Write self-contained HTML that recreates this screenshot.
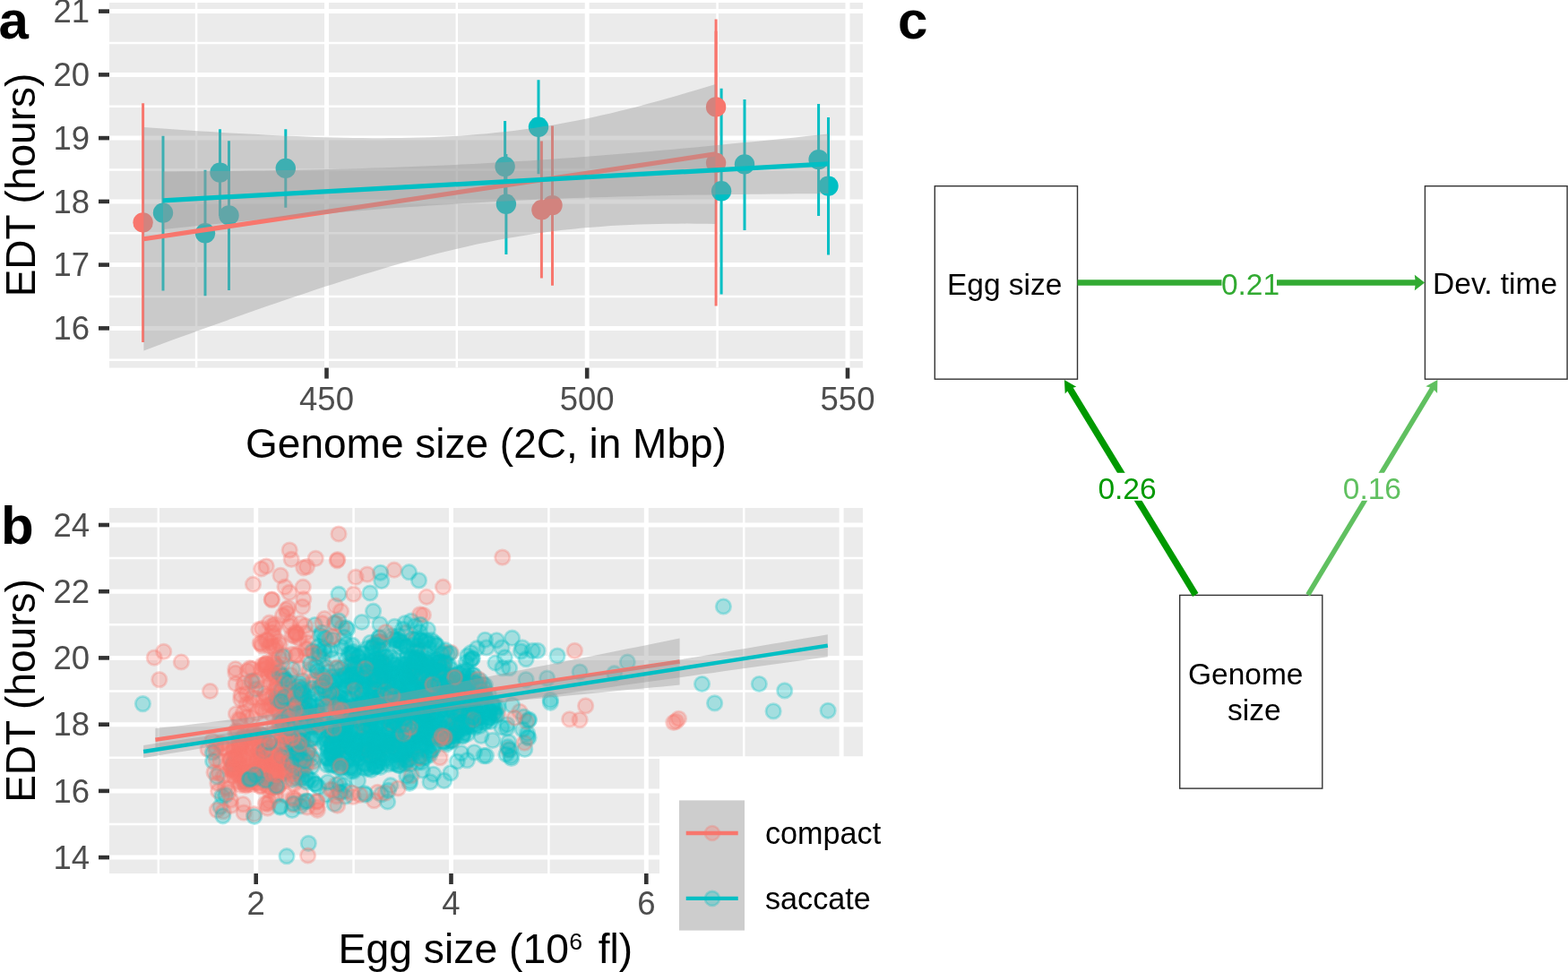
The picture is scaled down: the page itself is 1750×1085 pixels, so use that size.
<!DOCTYPE html><html><head><meta charset="utf-8"><title>Figure</title><style>html,body{margin:0;padding:0;background:#fff;}svg{display:block;}</style></head><body>
<svg width="1750" height="1085" viewBox="0 0 1750 1085" font-family="'Liberation Sans',Arial,Helvetica,sans-serif">
<rect width="1750" height="1085" fill="#fff"/>
<defs><clipPath id="ca"><rect x="122" y="3" width="841" height="407.6"/></clipPath><clipPath id="cb"><rect x="122" y="567" width="841" height="408"/></clipPath></defs>
<rect x="122" y="3" width="841" height="407.6" fill="#EBEBEB"/>
<g clip-path="url(#ca)" stroke="#fff">
<line x1="122" x2="963" y1="401.8" y2="401.8" stroke-width="2.5"/><line x1="122" x2="963" y1="331" y2="331" stroke-width="2.5"/><line x1="122" x2="963" y1="260.3" y2="260.3" stroke-width="2.5"/><line x1="122" x2="963" y1="189.5" y2="189.5" stroke-width="2.5"/><line x1="122" x2="963" y1="118.8" y2="118.8" stroke-width="2.5"/><line x1="122" x2="963" y1="48" y2="48" stroke-width="2.5"/><line y1="3" y2="410.6" x1="219.1" x2="219.1" stroke-width="2.5"/><line y1="3" y2="410.6" x1="509.8" x2="509.8" stroke-width="2.5"/><line y1="3" y2="410.6" x1="800.6" x2="800.6" stroke-width="2.5"/><line x1="122" x2="963" y1="366.4" y2="366.4" stroke-width="5"/><line x1="122" x2="963" y1="295.6" y2="295.6" stroke-width="5"/><line x1="122" x2="963" y1="224.9" y2="224.9" stroke-width="5"/><line x1="122" x2="963" y1="154.1" y2="154.1" stroke-width="5"/><line x1="122" x2="963" y1="83.4" y2="83.4" stroke-width="5"/><line x1="122" x2="963" y1="12.6" y2="12.6" stroke-width="5"/><line y1="3" y2="410.6" x1="364.5" x2="364.5" stroke-width="5"/><line y1="3" y2="410.6" x1="655.2" x2="655.2" stroke-width="5"/><line y1="3" y2="410.6" x1="946" x2="946" stroke-width="5"/>
</g>
<g clip-path="url(#ca)">
<line x1="159.6" x2="159.6" y1="115.2" y2="381.9" stroke="#F8766D" stroke-width="3"/>
<line x1="604.4" x2="604.4" y1="157.6" y2="310.5" stroke="#F8766D" stroke-width="3"/>
<line x1="616.5" x2="616.5" y1="140.6" y2="318.7" stroke="#F8766D" stroke-width="3"/>
<line x1="799.1" x2="799.1" y1="21.6" y2="217.2" stroke="#F8766D" stroke-width="3"/>
<line x1="799.1" x2="799.1" y1="34.8" y2="341.6" stroke="#F8766D" stroke-width="3"/>
<line x1="182" x2="182" y1="151.7" y2="324.4" stroke="#00BFC4" stroke-width="3"/>
<line x1="229" x2="229" y1="189.8" y2="330.2" stroke="#00BFC4" stroke-width="3"/>
<line x1="245.5" x2="245.5" y1="144.2" y2="241" stroke="#00BFC4" stroke-width="3"/>
<line x1="255.5" x2="255.5" y1="157.2" y2="323.9" stroke="#00BFC4" stroke-width="3"/>
<line x1="318.8" x2="318.8" y1="144.2" y2="231.8" stroke="#00BFC4" stroke-width="3"/>
<line x1="563.6" x2="563.6" y1="134.9" y2="237" stroke="#00BFC4" stroke-width="3"/>
<line x1="564.9" x2="564.9" y1="172" y2="284.1" stroke="#00BFC4" stroke-width="3"/>
<line x1="601" x2="601" y1="89.2" y2="194.3" stroke="#00BFC4" stroke-width="3"/>
<line x1="805.1" x2="805.1" y1="98.8" y2="328.4" stroke="#00BFC4" stroke-width="3"/>
<line x1="831" x2="831" y1="111.1" y2="257" stroke="#00BFC4" stroke-width="3"/>
<line x1="913.6" x2="913.6" y1="116.1" y2="241.1" stroke="#00BFC4" stroke-width="3"/>
<line x1="924.5" x2="924.5" y1="131" y2="284.6" stroke="#00BFC4" stroke-width="3"/>
<circle cx="159.6" cy="248.4" r="11.2" fill="#F8766D"/>
<circle cx="604.4" cy="234.3" r="11.2" fill="#F8766D"/>
<circle cx="616.5" cy="229.1" r="11.2" fill="#F8766D"/>
<circle cx="799.1" cy="119.4" r="11.2" fill="#F8766D"/>
<circle cx="799.1" cy="181.8" r="11.2" fill="#F8766D"/>
<circle cx="182" cy="237.6" r="11.2" fill="#00BFC4"/>
<circle cx="229" cy="260.3" r="11.2" fill="#00BFC4"/>
<circle cx="245.5" cy="192.6" r="11.2" fill="#00BFC4"/>
<circle cx="255.5" cy="240.4" r="11.2" fill="#00BFC4"/>
<circle cx="318.8" cy="187.9" r="11.2" fill="#00BFC4"/>
<circle cx="563.6" cy="186" r="11.2" fill="#00BFC4"/>
<circle cx="564.9" cy="227.8" r="11.2" fill="#00BFC4"/>
<circle cx="601" cy="141.8" r="11.2" fill="#00BFC4"/>
<circle cx="805.1" cy="213.3" r="11.2" fill="#00BFC4"/>
<circle cx="831" cy="183.4" r="11.2" fill="#00BFC4"/>
<circle cx="913.6" cy="178.1" r="11.2" fill="#00BFC4"/>
<circle cx="924.5" cy="207.6" r="11.2" fill="#00BFC4"/>
<path d="M160.4 142 L171 142.8 L181.7 143.5 L192.3 144.3 L202.9 145 L213.6 145.7 L224.2 146.4 L234.8 147.1 L245.5 147.7 L256.1 148.4 L266.8 149 L277.4 149.6 L288 150.1 L298.7 150.7 L309.3 151.2 L319.9 151.7 L330.6 152.1 L341.2 152.5 L351.8 152.9 L362.5 153.2 L373.1 153.5 L383.7 153.7 L394.4 153.9 L405 154.1 L415.6 154.2 L426.3 154.2 L436.9 154.1 L447.5 154 L458.2 153.8 L468.8 153.6 L479.5 153.2 L490.1 152.8 L500.7 152.3 L511.4 151.7 L522 151 L532.6 150.1 L543.3 149.2 L553.9 148.1 L564.5 147 L575.2 145.7 L585.8 144.3 L596.4 142.8 L607.1 141.1 L617.7 139.4 L628.3 137.5 L639 135.5 L649.6 133.4 L660.2 131.2 L670.9 128.8 L681.5 126.4 L692.1 123.8 L702.8 121.2 L713.4 118.5 L724.1 115.6 L734.7 112.7 L745.3 109.8 L756 106.7 L766.6 103.6 L777.2 100.4 L787.9 97.2 L798.5 93.9 L798.5 249.9 L787.9 249.7 L777.2 249.7 L766.6 249.6 L756 249.7 L745.3 249.8 L734.7 250 L724.1 250.2 L713.4 250.6 L702.8 251 L692.1 251.5 L681.5 252.1 L670.9 252.9 L660.2 253.7 L649.6 254.6 L639 255.7 L628.3 256.8 L617.7 258.1 L607.1 259.5 L596.4 261 L585.8 262.7 L575.2 264.4 L564.5 266.3 L553.9 268.3 L543.3 270.4 L532.6 272.6 L522 275 L511.4 277.4 L500.7 280 L490.1 282.6 L479.5 285.3 L468.8 288.2 L458.2 291.1 L447.5 294 L436.9 297.1 L426.3 300.2 L415.6 303.4 L405 306.6 L394.4 309.9 L383.7 313.3 L373.1 316.7 L362.5 320.1 L351.8 323.6 L341.2 327.2 L330.6 330.7 L319.9 334.3 L309.3 338 L298.7 341.6 L288 345.3 L277.4 349.1 L266.8 352.8 L256.1 356.6 L245.5 360.4 L234.8 364.2 L224.2 368 L213.6 371.9 L202.9 375.7 L192.3 379.6 L181.7 383.5 L171 387.5 L160.4 391.4Z" fill="#999999" fill-opacity="0.4"/>
<line x1="160.4" y1="266.7" x2="798.5" y2="171.9" stroke="#F8766D" stroke-width="5.2"/>
<path d="M182 191.5 L194.4 191.4 L206.8 191.3 L219.1 191.2 L231.5 191.1 L243.9 191 L256.2 190.9 L268.6 190.7 L281 190.6 L293.4 190.4 L305.8 190.2 L318.1 190 L330.5 189.8 L342.9 189.5 L355.2 189.2 L367.6 189 L380 188.6 L392.4 188.3 L404.8 188 L417.1 187.6 L429.5 187.2 L441.9 186.8 L454.2 186.3 L466.6 185.8 L479 185.3 L491.4 184.8 L503.8 184.2 L516.1 183.6 L528.5 183 L540.9 182.3 L553.2 181.6 L565.6 180.9 L578 180.1 L590.4 179.4 L602.8 178.5 L615.1 177.7 L627.5 176.8 L639.9 175.9 L652.2 175 L664.6 174 L677 173 L689.4 172 L701.8 171 L714.1 170 L726.5 168.9 L738.9 167.8 L751.2 166.7 L763.6 165.5 L776 164.4 L788.4 163.2 L800.8 162 L813.1 160.8 L825.5 159.6 L837.9 158.4 L850.2 157.2 L862.6 155.9 L875 154.7 L887.4 153.4 L899.8 152.1 L912.1 150.8 L924.5 149.5 L924.5 216.1 L912.1 216.2 L899.8 216.3 L887.4 216.3 L875 216.4 L862.6 216.5 L850.2 216.7 L837.9 216.8 L825.5 216.9 L813.1 217.1 L800.8 217.2 L788.4 217.4 L776 217.6 L763.6 217.8 L751.2 218.1 L738.9 218.3 L726.5 218.6 L714.1 218.9 L701.8 219.2 L689.4 219.5 L677 219.9 L664.6 220.3 L652.2 220.7 L639.9 221.1 L627.5 221.6 L615.1 222.1 L602.8 222.6 L590.4 223.2 L578 223.7 L565.6 224.4 L553.2 225 L540.9 225.7 L528.5 226.4 L516.1 227.1 L503.8 227.9 L491.4 228.7 L479 229.5 L466.6 230.4 L454.2 231.2 L441.9 232.1 L429.5 233.1 L417.1 234 L404.8 235 L392.4 236.1 L380 237.1 L367.6 238.2 L355.2 239.2 L342.9 240.3 L330.5 241.5 L318.1 242.6 L305.8 243.7 L293.4 244.9 L281 246.1 L268.6 247.3 L256.2 248.5 L243.9 249.8 L231.5 251 L219.1 252.3 L206.8 253.5 L194.4 254.8 L182 256.1Z" fill="#999999" fill-opacity="0.4"/>
<line x1="182" y1="223.8" x2="924.5" y2="182.8" stroke="#00BFC4" stroke-width="5.2"/>
</g>
<line x1="110" x2="122" y1="366.4" y2="366.4" stroke="#333" stroke-width="4.6"/><text x="100.1" y="379" text-anchor="end" font-size="36.5" fill="#4D4D4D">16</text><line x1="110" x2="122" y1="295.6" y2="295.6" stroke="#333" stroke-width="4.6"/><text x="100.1" y="308.2" text-anchor="end" font-size="36.5" fill="#4D4D4D">17</text><line x1="110" x2="122" y1="224.9" y2="224.9" stroke="#333" stroke-width="4.6"/><text x="100.1" y="237.5" text-anchor="end" font-size="36.5" fill="#4D4D4D">18</text><line x1="110" x2="122" y1="154.1" y2="154.1" stroke="#333" stroke-width="4.6"/><text x="100.1" y="166.7" text-anchor="end" font-size="36.5" fill="#4D4D4D">19</text><line x1="110" x2="122" y1="83.4" y2="83.4" stroke="#333" stroke-width="4.6"/><text x="100.1" y="96" text-anchor="end" font-size="36.5" fill="#4D4D4D">20</text><line x1="110" x2="122" y1="12.6" y2="12.6" stroke="#333" stroke-width="4.6"/><text x="100.1" y="25.2" text-anchor="end" font-size="36.5" fill="#4D4D4D">21</text><line y1="410.6" y2="422.6" x1="364.5" x2="364.5" stroke="#333" stroke-width="4.6"/><text x="364.5" y="457.7" text-anchor="middle" font-size="36.5" fill="#4D4D4D">450</text><line y1="410.6" y2="422.6" x1="655.2" x2="655.2" stroke="#333" stroke-width="4.6"/><text x="655.2" y="457.7" text-anchor="middle" font-size="36.5" fill="#4D4D4D">500</text><line y1="410.6" y2="422.6" x1="946" x2="946" stroke="#333" stroke-width="4.6"/><text x="946" y="457.7" text-anchor="middle" font-size="36.5" fill="#4D4D4D">550</text>
<text x="542.5" y="510.8" text-anchor="middle" font-size="46" fill="#000">Genome size (2C, in Mbp)</text>
<text transform="translate(38.7,206.5) rotate(-90)" text-anchor="middle" font-size="46" fill="#000">EDT (hours)</text>
<text x="-1.4" y="42.8" font-size="60" font-weight="bold" fill="#000">a</text>
<rect x="122" y="567" width="841" height="408" fill="#EBEBEB"/>
<g clip-path="url(#cb)" stroke="#fff">
<line x1="122" x2="963" y1="920" y2="920" stroke-width="2.5"/><line x1="122" x2="963" y1="845.8" y2="845.8" stroke-width="2.5"/><line x1="122" x2="963" y1="771.5" y2="771.5" stroke-width="2.5"/><line x1="122" x2="963" y1="697.3" y2="697.3" stroke-width="2.5"/><line x1="122" x2="963" y1="623.1" y2="623.1" stroke-width="2.5"/><line y1="567" y2="975" x1="176.8" x2="176.8" stroke-width="2.5"/><line y1="567" y2="975" x1="394.6" x2="394.6" stroke-width="2.5"/><line y1="567" y2="975" x1="612.4" x2="612.4" stroke-width="2.5"/><line y1="567" y2="975" x1="830.2" x2="830.2" stroke-width="2.5"/><line x1="122" x2="963" y1="957.1" y2="957.1" stroke-width="5"/><line x1="122" x2="963" y1="882.9" y2="882.9" stroke-width="5"/><line x1="122" x2="963" y1="808.7" y2="808.7" stroke-width="5"/><line x1="122" x2="963" y1="734.4" y2="734.4" stroke-width="5"/><line x1="122" x2="963" y1="660.2" y2="660.2" stroke-width="5"/><line x1="122" x2="963" y1="586" y2="586" stroke-width="5"/><line y1="567" y2="975" x1="285.7" x2="285.7" stroke-width="5"/><line y1="567" y2="975" x1="503.5" x2="503.5" stroke-width="5"/><line y1="567" y2="975" x1="721.3" x2="721.3" stroke-width="5"/><line y1="567" y2="975" x1="939.1" x2="939.1" stroke-width="5"/>
</g>
<style>.r{fill:#F8766D;stroke:#F8766D}.c{fill:#00BFC4;stroke:#00BFC4}.r,.c{fill-opacity:.3;stroke-opacity:.3;stroke-width:2.8px}</style><g clip-path="url(#cb)"><circle class="r" cx="301.9" cy="762.9" r="8.2"/><circle class="c" cx="407.4" cy="839.4" r="8.2"/><circle class="c" cx="413.2" cy="831.3" r="8.2"/><circle class="r" cx="243.6" cy="883.0" r="8.2"/><circle class="c" cx="466.3" cy="851.3" r="8.2"/><circle class="c" cx="387.1" cy="736.4" r="8.2"/><circle class="c" cx="337.9" cy="895.7" r="8.2"/><circle class="c" cx="588.6" cy="822.9" r="8.2"/><circle class="c" cx="373.1" cy="897.4" r="8.2"/><circle class="c" cx="332.6" cy="831.8" r="8.2"/><circle class="r" cx="265.9" cy="841.3" r="8.2"/><circle class="r" cx="419.0" cy="764.4" r="8.2"/><circle class="c" cx="530.4" cy="781.0" r="8.2"/><circle class="r" cx="460.3" cy="815.1" r="8.2"/><circle class="c" cx="479.6" cy="765.5" r="8.2"/><circle class="c" cx="337.3" cy="855.2" r="8.2"/><circle class="c" cx="488.6" cy="820.4" r="8.2"/><circle class="c" cx="429.9" cy="733.8" r="8.2"/><circle class="c" cx="391.9" cy="800.0" r="8.2"/><circle class="r" cx="291.7" cy="789.8" r="8.2"/><circle class="c" cx="334.2" cy="826.0" r="8.2"/><circle class="c" cx="471.4" cy="766.0" r="8.2"/><circle class="c" cx="440.9" cy="736.8" r="8.2"/><circle class="r" cx="310.1" cy="744.6" r="8.2"/><circle class="r" cx="340.9" cy="724.4" r="8.2"/><circle class="r" cx="273.9" cy="824.2" r="8.2"/><circle class="c" cx="391.8" cy="855.1" r="8.2"/><circle class="c" cx="452.2" cy="787.1" r="8.2"/><circle class="c" cx="411.1" cy="745.6" r="8.2"/><circle class="r" cx="290.4" cy="835.5" r="8.2"/><circle class="r" cx="309.4" cy="863.6" r="8.2"/><circle class="c" cx="434.3" cy="814.4" r="8.2"/><circle class="r" cx="494.9" cy="727.9" r="8.2"/><circle class="c" cx="433.9" cy="821.6" r="8.2"/><circle class="c" cx="359.6" cy="753.3" r="8.2"/><circle class="c" cx="367.1" cy="750.1" r="8.2"/><circle class="c" cx="460.7" cy="829.5" r="8.2"/><circle class="c" cx="465.6" cy="802.3" r="8.2"/><circle class="c" cx="437.0" cy="741.4" r="8.2"/><circle class="c" cx="273.7" cy="872.4" r="8.2"/><circle class="r" cx="264.2" cy="814.8" r="8.2"/><circle class="c" cx="546.5" cy="801.4" r="8.2"/><circle class="c" cx="321.8" cy="769.5" r="8.2"/><circle class="r" cx="294.7" cy="855.6" r="8.2"/><circle class="c" cx="525.1" cy="737.0" r="8.2"/><circle class="c" cx="320.4" cy="795.9" r="8.2"/><circle class="c" cx="418.7" cy="786.0" r="8.2"/><circle class="c" cx="387.7" cy="849.2" r="8.2"/><circle class="c" cx="440.4" cy="793.3" r="8.2"/><circle class="c" cx="528.4" cy="753.5" r="8.2"/><circle class="r" cx="352.3" cy="623.4" r="8.2"/><circle class="c" cx="394.7" cy="814.8" r="8.2"/><circle class="c" cx="507.8" cy="811.0" r="8.2"/><circle class="c" cx="499.6" cy="730.1" r="8.2"/><circle class="c" cx="373.1" cy="695.7" r="8.2"/><circle class="r" cx="757.4" cy="802.3" r="8.2"/><circle class="c" cx="482.5" cy="768.2" r="8.2"/><circle class="c" cx="430.8" cy="746.9" r="8.2"/><circle class="r" cx="299.7" cy="752.5" r="8.2"/><circle class="r" cx="308.2" cy="792.2" r="8.2"/><circle class="c" cx="418.4" cy="856.0" r="8.2"/><circle class="c" cx="365.6" cy="822.4" r="8.2"/><circle class="r" cx="353.6" cy="901.1" r="8.2"/><circle class="c" cx="476.4" cy="762.5" r="8.2"/><circle class="c" cx="385.3" cy="825.9" r="8.2"/><circle class="c" cx="440.8" cy="715.1" r="8.2"/><circle class="c" cx="479.9" cy="842.6" r="8.2"/><circle class="r" cx="472.4" cy="686.5" r="8.2"/><circle class="c" cx="514.7" cy="804.6" r="8.2"/><circle class="c" cx="521.5" cy="800.1" r="8.2"/><circle class="c" cx="384.6" cy="744.4" r="8.2"/><circle class="c" cx="387.5" cy="847.5" r="8.2"/><circle class="c" cx="439.0" cy="791.9" r="8.2"/><circle class="r" cx="266.3" cy="850.8" r="8.2"/><circle class="c" cx="515.8" cy="778.4" r="8.2"/><circle class="r" cx="338.1" cy="832.6" r="8.2"/><circle class="c" cx="484.5" cy="816.9" r="8.2"/><circle class="c" cx="415.5" cy="777.9" r="8.2"/><circle class="c" cx="471.7" cy="834.6" r="8.2"/><circle class="c" cx="385.1" cy="816.9" r="8.2"/><circle class="c" cx="469.9" cy="726.0" r="8.2"/><circle class="c" cx="427.7" cy="718.2" r="8.2"/><circle class="c" cx="421.3" cy="762.2" r="8.2"/><circle class="r" cx="471.9" cy="765.5" r="8.2"/><circle class="c" cx="404.4" cy="816.7" r="8.2"/><circle class="r" cx="339.8" cy="766.4" r="8.2"/><circle class="c" cx="395.6" cy="837.5" r="8.2"/><circle class="r" cx="311.9" cy="781.6" r="8.2"/><circle class="r" cx="325.3" cy="806.5" r="8.2"/><circle class="r" cx="299.9" cy="786.5" r="8.2"/><circle class="r" cx="292.7" cy="742.5" r="8.2"/><circle class="c" cx="581.4" cy="727.1" r="8.2"/><circle class="r" cx="635.7" cy="802.9" r="8.2"/><circle class="c" cx="386.6" cy="810.1" r="8.2"/><circle class="c" cx="571.6" cy="712.2" r="8.2"/><circle class="r" cx="315.4" cy="858.9" r="8.2"/><circle class="c" cx="473.7" cy="749.1" r="8.2"/><circle class="c" cx="373.7" cy="848.8" r="8.2"/><circle class="r" cx="343.5" cy="717.5" r="8.2"/><circle class="r" cx="251.2" cy="879.1" r="8.2"/><circle class="c" cx="471.5" cy="771.9" r="8.2"/><circle class="c" cx="501.7" cy="773.5" r="8.2"/><circle class="c" cx="700.3" cy="739.1" r="8.2"/><circle class="r" cx="318.4" cy="887.9" r="8.2"/><circle class="c" cx="332.9" cy="862.0" r="8.2"/><circle class="r" cx="307.8" cy="721.2" r="8.2"/><circle class="c" cx="399.8" cy="733.8" r="8.2"/><circle class="c" cx="367.5" cy="816.1" r="8.2"/><circle class="r" cx="257.7" cy="847.6" r="8.2"/><circle class="r" cx="323.2" cy="769.3" r="8.2"/><circle class="r" cx="330.6" cy="782.7" r="8.2"/><circle class="c" cx="491.9" cy="791.4" r="8.2"/><circle class="c" cx="468.6" cy="705.7" r="8.2"/><circle class="c" cx="393.4" cy="847.3" r="8.2"/><circle class="c" cx="345.6" cy="796.0" r="8.2"/><circle class="r" cx="327.7" cy="776.5" r="8.2"/><circle class="c" cx="351.7" cy="743.5" r="8.2"/><circle class="c" cx="437.4" cy="824.7" r="8.2"/><circle class="r" cx="272.2" cy="821.6" r="8.2"/><circle class="r" cx="323.8" cy="848.9" r="8.2"/><circle class="c" cx="473.3" cy="799.0" r="8.2"/><circle class="r" cx="280.7" cy="875.9" r="8.2"/><circle class="r" cx="476.1" cy="798.4" r="8.2"/><circle class="c" cx="455.7" cy="846.1" r="8.2"/><circle class="c" cx="387.7" cy="702.7" r="8.2"/><circle class="c" cx="520.1" cy="777.4" r="8.2"/><circle class="c" cx="436.6" cy="805.2" r="8.2"/><circle class="c" cx="375.0" cy="826.6" r="8.2"/><circle class="c" cx="457.1" cy="874.3" r="8.2"/><circle class="c" cx="492.3" cy="757.5" r="8.2"/><circle class="c" cx="378.9" cy="825.4" r="8.2"/><circle class="r" cx="375.2" cy="875.8" r="8.2"/><circle class="c" cx="451.8" cy="782.5" r="8.2"/><circle class="r" cx="368.8" cy="774.4" r="8.2"/><circle class="c" cx="429.4" cy="826.3" r="8.2"/><circle class="c" cx="513.9" cy="774.1" r="8.2"/><circle class="r" cx="357.8" cy="759.2" r="8.2"/><circle class="c" cx="369.4" cy="841.7" r="8.2"/><circle class="r" cx="503.0" cy="728.4" r="8.2"/><circle class="c" cx="516.4" cy="813.5" r="8.2"/><circle class="c" cx="341.3" cy="791.8" r="8.2"/><circle class="r" cx="338.8" cy="633.8" r="8.2"/><circle class="r" cx="560.7" cy="622.1" r="8.2"/><circle class="r" cx="317.7" cy="796.1" r="8.2"/><circle class="r" cx="314.0" cy="754.4" r="8.2"/><circle class="c" cx="482.6" cy="755.3" r="8.2"/><circle class="c" cx="458.8" cy="743.9" r="8.2"/><circle class="c" cx="506.6" cy="819.0" r="8.2"/><circle class="c" cx="401.7" cy="797.4" r="8.2"/><circle class="c" cx="477.5" cy="763.7" r="8.2"/><circle class="c" cx="525.8" cy="781.4" r="8.2"/><circle class="c" cx="472.4" cy="795.1" r="8.2"/><circle class="c" cx="454.4" cy="757.1" r="8.2"/><circle class="r" cx="477.4" cy="741.4" r="8.2"/><circle class="r" cx="257.2" cy="859.0" r="8.2"/><circle class="c" cx="348.4" cy="846.6" r="8.2"/><circle class="r" cx="267.9" cy="876.4" r="8.2"/><circle class="r" cx="291.2" cy="846.5" r="8.2"/><circle class="c" cx="490.4" cy="792.4" r="8.2"/><circle class="c" cx="474.6" cy="799.7" r="8.2"/><circle class="c" cx="464.6" cy="810.0" r="8.2"/><circle class="r" cx="306.9" cy="865.4" r="8.2"/><circle class="c" cx="479.3" cy="824.0" r="8.2"/><circle class="r" cx="261.9" cy="865.2" r="8.2"/><circle class="c" cx="372.9" cy="800.2" r="8.2"/><circle class="c" cx="433.6" cy="760.2" r="8.2"/><circle class="c" cx="412.3" cy="805.3" r="8.2"/><circle class="c" cx="459.1" cy="789.4" r="8.2"/><circle class="c" cx="414.1" cy="740.1" r="8.2"/><circle class="c" cx="510.6" cy="756.9" r="8.2"/><circle class="r" cx="310.9" cy="843.2" r="8.2"/><circle class="c" cx="443.0" cy="719.4" r="8.2"/><circle class="c" cx="453.7" cy="848.8" r="8.2"/><circle class="c" cx="337.9" cy="848.9" r="8.2"/><circle class="c" cx="356.6" cy="727.0" r="8.2"/><circle class="c" cx="331.3" cy="868.8" r="8.2"/><circle class="c" cx="394.1" cy="800.7" r="8.2"/><circle class="c" cx="425.6" cy="886.6" r="8.2"/><circle class="c" cx="453.4" cy="741.9" r="8.2"/><circle class="c" cx="416.5" cy="832.8" r="8.2"/><circle class="r" cx="319.4" cy="680.5" r="8.2"/><circle class="r" cx="309.8" cy="769.2" r="8.2"/><circle class="c" cx="536.2" cy="787.4" r="8.2"/><circle class="c" cx="486.0" cy="771.9" r="8.2"/><circle class="r" cx="278.8" cy="785.4" r="8.2"/><circle class="r" cx="310.8" cy="716.0" r="8.2"/><circle class="c" cx="531.1" cy="809.0" r="8.2"/><circle class="c" cx="247.9" cy="888.6" r="8.2"/><circle class="c" cx="351.5" cy="697.5" r="8.2"/><circle class="c" cx="433.1" cy="751.2" r="8.2"/><circle class="r" cx="291.9" cy="864.4" r="8.2"/><circle class="c" cx="383.7" cy="796.9" r="8.2"/><circle class="c" cx="529.9" cy="801.7" r="8.2"/><circle class="r" cx="272.6" cy="821.8" r="8.2"/><circle class="c" cx="425.8" cy="648.5" r="8.2"/><circle class="c" cx="458.5" cy="734.7" r="8.2"/><circle class="c" cx="551.1" cy="794.7" r="8.2"/><circle class="c" cx="504.3" cy="814.0" r="8.2"/><circle class="r" cx="336.9" cy="856.2" r="8.2"/><circle class="c" cx="246.0" cy="900.4" r="8.2"/><circle class="c" cx="492.9" cy="730.0" r="8.2"/><circle class="c" cx="457.5" cy="756.4" r="8.2"/><circle class="c" cx="455.6" cy="756.6" r="8.2"/><circle class="c" cx="477.7" cy="791.1" r="8.2"/><circle class="r" cx="249.6" cy="866.2" r="8.2"/><circle class="c" cx="441.1" cy="834.7" r="8.2"/><circle class="c" cx="471.0" cy="850.8" r="8.2"/><circle class="c" cx="484.4" cy="778.2" r="8.2"/><circle class="c" cx="451.1" cy="819.8" r="8.2"/><circle class="c" cx="455.3" cy="834.8" r="8.2"/><circle class="r" cx="307.6" cy="742.8" r="8.2"/><circle class="c" cx="496.9" cy="740.4" r="8.2"/><circle class="c" cx="521.4" cy="795.9" r="8.2"/><circle class="r" cx="297.2" cy="740.2" r="8.2"/><circle class="r" cx="466.1" cy="724.3" r="8.2"/><circle class="r" cx="371.4" cy="770.2" r="8.2"/><circle class="c" cx="445.2" cy="809.4" r="8.2"/><circle class="c" cx="457.3" cy="767.1" r="8.2"/><circle class="c" cx="434.1" cy="807.3" r="8.2"/><circle class="c" cx="510.3" cy="850.0" r="8.2"/><circle class="c" cx="489.8" cy="748.1" r="8.2"/><circle class="c" cx="455.5" cy="828.6" r="8.2"/><circle class="c" cx="471.8" cy="741.8" r="8.2"/><circle class="c" cx="312.5" cy="901.2" r="8.2"/><circle class="c" cx="385.5" cy="883.1" r="8.2"/><circle class="c" cx="462.7" cy="714.5" r="8.2"/><circle class="r" cx="242.3" cy="904.4" r="8.2"/><circle class="r" cx="300.6" cy="721.8" r="8.2"/><circle class="c" cx="424.7" cy="856.3" r="8.2"/><circle class="r" cx="304.3" cy="778.2" r="8.2"/><circle class="c" cx="409.5" cy="759.9" r="8.2"/><circle class="r" cx="263.5" cy="796.9" r="8.2"/><circle class="c" cx="533.5" cy="796.4" r="8.2"/><circle class="r" cx="256.9" cy="847.4" r="8.2"/><circle class="c" cx="450.3" cy="801.8" r="8.2"/><circle class="c" cx="463.3" cy="777.3" r="8.2"/><circle class="c" cx="477.4" cy="702.8" r="8.2"/><circle class="c" cx="364.3" cy="887.1" r="8.2"/><circle class="c" cx="542.4" cy="796.5" r="8.2"/><circle class="c" cx="383.0" cy="767.9" r="8.2"/><circle class="r" cx="283.0" cy="865.2" r="8.2"/><circle class="c" cx="447.3" cy="769.1" r="8.2"/><circle class="c" cx="464.3" cy="713.2" r="8.2"/><circle class="c" cx="338.5" cy="783.1" r="8.2"/><circle class="c" cx="346.6" cy="811.1" r="8.2"/><circle class="c" cx="541.3" cy="764.8" r="8.2"/><circle class="c" cx="452.9" cy="751.6" r="8.2"/><circle class="c" cx="419.7" cy="791.2" r="8.2"/><circle class="c" cx="395.6" cy="795.4" r="8.2"/><circle class="r" cx="307.2" cy="755.2" r="8.2"/><circle class="c" cx="405.7" cy="856.8" r="8.2"/><circle class="c" cx="875.7" cy="770.9" r="8.2"/><circle class="c" cx="481.5" cy="811.8" r="8.2"/><circle class="c" cx="516.1" cy="790.1" r="8.2"/><circle class="c" cx="346.5" cy="842.3" r="8.2"/><circle class="r" cx="289.9" cy="818.8" r="8.2"/><circle class="c" cx="409.9" cy="814.7" r="8.2"/><circle class="c" cx="351.5" cy="798.3" r="8.2"/><circle class="c" cx="500.5" cy="772.6" r="8.2"/><circle class="c" cx="416.3" cy="851.1" r="8.2"/><circle class="c" cx="387.6" cy="833.0" r="8.2"/><circle class="r" cx="295.7" cy="854.7" r="8.2"/><circle class="c" cx="446.7" cy="761.6" r="8.2"/><circle class="r" cx="343.3" cy="839.7" r="8.2"/><circle class="c" cx="369.9" cy="810.8" r="8.2"/><circle class="r" cx="303.0" cy="864.0" r="8.2"/><circle class="c" cx="485.9" cy="751.1" r="8.2"/><circle class="c" cx="382.3" cy="804.2" r="8.2"/><circle class="c" cx="465.1" cy="737.5" r="8.2"/><circle class="c" cx="504.0" cy="787.7" r="8.2"/><circle class="c" cx="377.3" cy="834.8" r="8.2"/><circle class="c" cx="497.4" cy="792.0" r="8.2"/><circle class="c" cx="519.2" cy="807.6" r="8.2"/><circle class="c" cx="473.3" cy="810.7" r="8.2"/><circle class="c" cx="348.0" cy="811.7" r="8.2"/><circle class="c" cx="458.9" cy="693.2" r="8.2"/><circle class="c" cx="432.8" cy="828.3" r="8.2"/><circle class="c" cx="521.5" cy="819.3" r="8.2"/><circle class="c" cx="408.4" cy="828.0" r="8.2"/><circle class="r" cx="285.1" cy="859.3" r="8.2"/><circle class="c" cx="421.4" cy="758.7" r="8.2"/><circle class="c" cx="411.1" cy="768.4" r="8.2"/><circle class="c" cx="395.6" cy="858.6" r="8.2"/><circle class="c" cx="394.6" cy="860.9" r="8.2"/><circle class="c" cx="436.3" cy="781.0" r="8.2"/><circle class="r" cx="303.4" cy="842.5" r="8.2"/><circle class="c" cx="498.4" cy="823.9" r="8.2"/><circle class="c" cx="434.8" cy="829.0" r="8.2"/><circle class="c" cx="515.6" cy="801.2" r="8.2"/><circle class="c" cx="448.8" cy="847.0" r="8.2"/><circle class="r" cx="363.6" cy="776.3" r="8.2"/><circle class="c" cx="500.8" cy="753.3" r="8.2"/><circle class="c" cx="452.8" cy="803.3" r="8.2"/><circle class="c" cx="470.7" cy="744.3" r="8.2"/><circle class="c" cx="415.2" cy="807.6" r="8.2"/><circle class="r" cx="317.1" cy="785.6" r="8.2"/><circle class="c" cx="359.4" cy="765.3" r="8.2"/><circle class="c" cx="497.1" cy="725.7" r="8.2"/><circle class="c" cx="495.1" cy="787.4" r="8.2"/><circle class="c" cx="508.0" cy="809.4" r="8.2"/><circle class="c" cx="413.4" cy="717.3" r="8.2"/><circle class="c" cx="352.8" cy="823.9" r="8.2"/><circle class="c" cx="493.2" cy="739.3" r="8.2"/><circle class="c" cx="505.1" cy="763.2" r="8.2"/><circle class="c" cx="538.0" cy="781.4" r="8.2"/><circle class="r" cx="494.6" cy="748.6" r="8.2"/><circle class="r" cx="352.4" cy="760.2" r="8.2"/><circle class="r" cx="280.7" cy="872.3" r="8.2"/><circle class="c" cx="378.0" cy="663.2" r="8.2"/><circle class="r" cx="295.3" cy="773.8" r="8.2"/><circle class="c" cx="465.9" cy="830.0" r="8.2"/><circle class="c" cx="383.5" cy="876.6" r="8.2"/><circle class="c" cx="447.3" cy="801.2" r="8.2"/><circle class="c" cx="483.7" cy="778.0" r="8.2"/><circle class="c" cx="432.0" cy="846.7" r="8.2"/><circle class="r" cx="567.3" cy="836.6" r="8.2"/><circle class="r" cx="240.8" cy="838.3" r="8.2"/><circle class="c" cx="614.3" cy="781.4" r="8.2"/><circle class="c" cx="520.3" cy="739.6" r="8.2"/><circle class="r" cx="283.3" cy="818.9" r="8.2"/><circle class="c" cx="334.4" cy="813.0" r="8.2"/><circle class="r" cx="424.8" cy="737.3" r="8.2"/><circle class="c" cx="361.5" cy="829.6" r="8.2"/><circle class="r" cx="246.9" cy="829.5" r="8.2"/><circle class="c" cx="396.0" cy="826.6" r="8.2"/><circle class="r" cx="297.3" cy="876.4" r="8.2"/><circle class="r" cx="254.4" cy="880.7" r="8.2"/><circle class="r" cx="394.2" cy="889.4" r="8.2"/><circle class="c" cx="308.4" cy="779.4" r="8.2"/><circle class="c" cx="465.8" cy="721.1" r="8.2"/><circle class="r" cx="266.7" cy="857.8" r="8.2"/><circle class="r" cx="294.1" cy="779.6" r="8.2"/><circle class="r" cx="334.6" cy="775.3" r="8.2"/><circle class="c" cx="462.3" cy="799.1" r="8.2"/><circle class="c" cx="497.3" cy="798.1" r="8.2"/><circle class="c" cx="435.2" cy="793.3" r="8.2"/><circle class="c" cx="421.5" cy="759.5" r="8.2"/><circle class="c" cx="440.6" cy="776.2" r="8.2"/><circle class="r" cx="344.2" cy="771.9" r="8.2"/><circle class="c" cx="314.3" cy="814.1" r="8.2"/><circle class="c" cx="478.3" cy="825.6" r="8.2"/><circle class="c" cx="540.2" cy="775.6" r="8.2"/><circle class="r" cx="311.3" cy="733.8" r="8.2"/><circle class="r" cx="381.7" cy="700.2" r="8.2"/><circle class="c" cx="468.4" cy="824.4" r="8.2"/><circle class="c" cx="410.1" cy="810.8" r="8.2"/><circle class="c" cx="398.3" cy="842.1" r="8.2"/><circle class="c" cx="534.2" cy="800.7" r="8.2"/><circle class="c" cx="494.0" cy="768.2" r="8.2"/><circle class="r" cx="329.1" cy="892.9" r="8.2"/><circle class="c" cx="436.5" cy="795.4" r="8.2"/><circle class="r" cx="338.8" cy="668.7" r="8.2"/><circle class="r" cx="282.7" cy="837.9" r="8.2"/><circle class="c" cx="401.0" cy="755.5" r="8.2"/><circle class="c" cx="448.9" cy="786.9" r="8.2"/><circle class="r" cx="423.4" cy="839.5" r="8.2"/><circle class="r" cx="505.4" cy="825.9" r="8.2"/><circle class="c" cx="495.1" cy="827.9" r="8.2"/><circle class="c" cx="478.7" cy="771.7" r="8.2"/><circle class="r" cx="283.6" cy="908.6" r="8.2"/><circle class="r" cx="307.8" cy="783.8" r="8.2"/><circle class="r" cx="337.3" cy="867.9" r="8.2"/><circle class="c" cx="534.9" cy="777.8" r="8.2"/><circle class="r" cx="309.4" cy="847.2" r="8.2"/><circle class="c" cx="453.4" cy="848.4" r="8.2"/><circle class="c" cx="380.7" cy="817.3" r="8.2"/><circle class="c" cx="484.7" cy="784.6" r="8.2"/><circle class="c" cx="479.3" cy="840.8" r="8.2"/><circle class="c" cx="416.5" cy="772.6" r="8.2"/><circle class="c" cx="426.3" cy="812.1" r="8.2"/><circle class="r" cx="341.8" cy="805.5" r="8.2"/><circle class="r" cx="286.1" cy="869.2" r="8.2"/><circle class="r" cx="369.9" cy="778.9" r="8.2"/><circle class="c" cx="455.5" cy="787.4" r="8.2"/><circle class="r" cx="281.0" cy="821.0" r="8.2"/><circle class="c" cx="549.7" cy="787.5" r="8.2"/><circle class="r" cx="421.3" cy="716.6" r="8.2"/><circle class="r" cx="462.5" cy="754.4" r="8.2"/><circle class="c" cx="468.5" cy="774.4" r="8.2"/><circle class="c" cx="329.5" cy="803.3" r="8.2"/><circle class="c" cx="436.5" cy="774.2" r="8.2"/><circle class="c" cx="357.7" cy="709.3" r="8.2"/><circle class="c" cx="404.7" cy="784.2" r="8.2"/><circle class="r" cx="342.5" cy="632.6" r="8.2"/><circle class="r" cx="452.2" cy="852.4" r="8.2"/><circle class="c" cx="285.4" cy="769.2" r="8.2"/><circle class="r" cx="417.4" cy="893.7" r="8.2"/><circle class="r" cx="305.0" cy="757.5" r="8.2"/><circle class="c" cx="378.5" cy="754.9" r="8.2"/><circle class="r" cx="257.5" cy="892.9" r="8.2"/><circle class="r" cx="292.3" cy="720.6" r="8.2"/><circle class="r" cx="277.1" cy="854.5" r="8.2"/><circle class="r" cx="249.3" cy="834.3" r="8.2"/><circle class="r" cx="281.6" cy="835.4" r="8.2"/><circle class="c" cx="481.2" cy="812.5" r="8.2"/><circle class="c" cx="492.0" cy="759.8" r="8.2"/><circle class="r" cx="240.8" cy="834.1" r="8.2"/><circle class="r" cx="320.4" cy="684.6" r="8.2"/><circle class="c" cx="504.3" cy="827.2" r="8.2"/><circle class="c" cx="452.0" cy="796.8" r="8.2"/><circle class="c" cx="453.5" cy="769.2" r="8.2"/><circle class="c" cx="476.0" cy="746.6" r="8.2"/><circle class="r" cx="525.2" cy="793.3" r="8.2"/><circle class="c" cx="475.1" cy="834.1" r="8.2"/><circle class="c" cx="436.8" cy="766.1" r="8.2"/><circle class="c" cx="365.3" cy="788.2" r="8.2"/><circle class="r" cx="291.6" cy="718.5" r="8.2"/><circle class="c" cx="496.8" cy="752.6" r="8.2"/><circle class="r" cx="276.8" cy="846.9" r="8.2"/><circle class="c" cx="448.6" cy="758.5" r="8.2"/><circle class="c" cx="458.9" cy="786.5" r="8.2"/><circle class="c" cx="442.9" cy="778.3" r="8.2"/><circle class="c" cx="454.2" cy="776.5" r="8.2"/><circle class="c" cx="472.1" cy="814.6" r="8.2"/><circle class="r" cx="278.9" cy="745.8" r="8.2"/><circle class="c" cx="446.0" cy="805.7" r="8.2"/><circle class="c" cx="390.4" cy="749.7" r="8.2"/><circle class="r" cx="393.3" cy="738.4" r="8.2"/><circle class="c" cx="337.4" cy="759.8" r="8.2"/><circle class="c" cx="445.1" cy="821.6" r="8.2"/><circle class="c" cx="406.8" cy="787.8" r="8.2"/><circle class="r" cx="328.6" cy="802.2" r="8.2"/><circle class="c" cx="473.2" cy="759.6" r="8.2"/><circle class="c" cx="587.1" cy="758.6" r="8.2"/><circle class="c" cx="471.7" cy="846.2" r="8.2"/><circle class="r" cx="263.3" cy="859.5" r="8.2"/><circle class="c" cx="600.0" cy="726.4" r="8.2"/><circle class="c" cx="432.6" cy="895.0" r="8.2"/><circle class="r" cx="297.2" cy="632.0" r="8.2"/><circle class="c" cx="383.9" cy="759.2" r="8.2"/><circle class="c" cx="479.4" cy="784.6" r="8.2"/><circle class="r" cx="555.6" cy="797.4" r="8.2"/><circle class="r" cx="362.3" cy="690.6" r="8.2"/><circle class="c" cx="510.4" cy="783.7" r="8.2"/><circle class="r" cx="453.0" cy="706.2" r="8.2"/><circle class="r" cx="303.0" cy="750.5" r="8.2"/><circle class="c" cx="435.1" cy="809.3" r="8.2"/><circle class="c" cx="396.0" cy="802.2" r="8.2"/><circle class="c" cx="318.1" cy="758.6" r="8.2"/><circle class="c" cx="543.5" cy="804.7" r="8.2"/><circle class="c" cx="521.7" cy="809.7" r="8.2"/><circle class="c" cx="363.8" cy="825.5" r="8.2"/><circle class="c" cx="386.0" cy="800.0" r="8.2"/><circle class="r" cx="262.9" cy="751.3" r="8.2"/><circle class="c" cx="373.9" cy="761.0" r="8.2"/><circle class="r" cx="326.1" cy="730.3" r="8.2"/><circle class="c" cx="413.0" cy="837.5" r="8.2"/><circle class="c" cx="251.7" cy="887.6" r="8.2"/><circle class="c" cx="452.0" cy="797.3" r="8.2"/><circle class="c" cx="382.8" cy="814.7" r="8.2"/><circle class="r" cx="329.2" cy="800.8" r="8.2"/><circle class="c" cx="348.9" cy="727.1" r="8.2"/><circle class="c" cx="343.5" cy="894.4" r="8.2"/><circle class="c" cx="526.5" cy="775.5" r="8.2"/><circle class="c" cx="471.9" cy="806.8" r="8.2"/><circle class="c" cx="371.8" cy="844.5" r="8.2"/><circle class="r" cx="320.7" cy="793.4" r="8.2"/><circle class="c" cx="516.4" cy="774.0" r="8.2"/><circle class="r" cx="262.5" cy="844.8" r="8.2"/><circle class="c" cx="327.2" cy="837.5" r="8.2"/><circle class="r" cx="343.1" cy="724.2" r="8.2"/><circle class="r" cx="319.9" cy="780.4" r="8.2"/><circle class="c" cx="327.0" cy="783.9" r="8.2"/><circle class="r" cx="394.5" cy="748.9" r="8.2"/><circle class="r" cx="421.4" cy="884.3" r="8.2"/><circle class="c" cx="392.8" cy="797.2" r="8.2"/><circle class="c" cx="384.4" cy="822.5" r="8.2"/><circle class="c" cx="482.1" cy="747.7" r="8.2"/><circle class="c" cx="407.1" cy="841.8" r="8.2"/><circle class="c" cx="431.7" cy="812.2" r="8.2"/><circle class="c" cx="554.3" cy="714.8" r="8.2"/><circle class="r" cx="342.6" cy="732.1" r="8.2"/><circle class="c" cx="266.2" cy="827.2" r="8.2"/><circle class="r" cx="459.2" cy="865.7" r="8.2"/><circle class="r" cx="308.4" cy="851.6" r="8.2"/><circle class="c" cx="394.5" cy="825.5" r="8.2"/><circle class="c" cx="487.8" cy="720.8" r="8.2"/><circle class="c" cx="260.2" cy="853.0" r="8.2"/><circle class="c" cx="450.2" cy="816.0" r="8.2"/><circle class="c" cx="431.6" cy="774.8" r="8.2"/><circle class="r" cx="427.7" cy="763.6" r="8.2"/><circle class="c" cx="348.1" cy="870.8" r="8.2"/><circle class="c" cx="406.7" cy="834.8" r="8.2"/><circle class="c" cx="356.4" cy="733.0" r="8.2"/><circle class="c" cx="437.1" cy="753.3" r="8.2"/><circle class="c" cx="443.0" cy="841.1" r="8.2"/><circle class="r" cx="325.1" cy="815.0" r="8.2"/><circle class="c" cx="524.9" cy="810.6" r="8.2"/><circle class="c" cx="419.4" cy="744.9" r="8.2"/><circle class="c" cx="455.7" cy="746.8" r="8.2"/><circle class="r" cx="318.0" cy="655.2" r="8.2"/><circle class="c" cx="399.9" cy="834.9" r="8.2"/><circle class="c" cx="467.2" cy="759.9" r="8.2"/><circle class="c" cx="508.8" cy="757.9" r="8.2"/><circle class="c" cx="415.1" cy="818.0" r="8.2"/><circle class="c" cx="476.9" cy="763.2" r="8.2"/><circle class="c" cx="407.9" cy="887.1" r="8.2"/><circle class="c" cx="370.1" cy="771.4" r="8.2"/><circle class="c" cx="521.2" cy="748.5" r="8.2"/><circle class="c" cx="490.1" cy="738.5" r="8.2"/><circle class="r" cx="313.1" cy="642.4" r="8.2"/><circle class="r" cx="315.8" cy="827.1" r="8.2"/><circle class="r" cx="374.7" cy="695.7" r="8.2"/><circle class="r" cx="335.1" cy="695.7" r="8.2"/><circle class="c" cx="522.4" cy="782.1" r="8.2"/><circle class="r" cx="267.1" cy="845.4" r="8.2"/><circle class="r" cx="232.1" cy="836.4" r="8.2"/><circle class="r" cx="280.7" cy="872.6" r="8.2"/><circle class="c" cx="407.1" cy="885.7" r="8.2"/><circle class="r" cx="281.2" cy="835.2" r="8.2"/><circle class="r" cx="317.7" cy="863.7" r="8.2"/><circle class="c" cx="330.9" cy="843.8" r="8.2"/><circle class="c" cx="455.0" cy="769.7" r="8.2"/><circle class="r" cx="301.0" cy="878.7" r="8.2"/><circle class="c" cx="394.1" cy="731.9" r="8.2"/><circle class="r" cx="282.6" cy="828.8" r="8.2"/><circle class="c" cx="419.6" cy="735.6" r="8.2"/><circle class="c" cx="408.3" cy="755.0" r="8.2"/><circle class="r" cx="288.0" cy="825.7" r="8.2"/><circle class="c" cx="570.0" cy="844.3" r="8.2"/><circle class="c" cx="568.6" cy="745.7" r="8.2"/><circle class="c" cx="489.9" cy="810.0" r="8.2"/><circle class="c" cx="370.5" cy="735.2" r="8.2"/><circle class="c" cx="524.1" cy="805.2" r="8.2"/><circle class="r" cx="487.2" cy="753.5" r="8.2"/><circle class="r" cx="344.4" cy="835.0" r="8.2"/><circle class="r" cx="298.6" cy="902.1" r="8.2"/><circle class="c" cx="469.1" cy="790.8" r="8.2"/><circle class="c" cx="448.5" cy="837.3" r="8.2"/><circle class="c" cx="401.1" cy="791.0" r="8.2"/><circle class="c" cx="376.9" cy="782.8" r="8.2"/><circle class="r" cx="306.8" cy="878.1" r="8.2"/><circle class="r" cx="285.2" cy="759.2" r="8.2"/><circle class="r" cx="287.2" cy="759.6" r="8.2"/><circle class="r" cx="328.3" cy="775.3" r="8.2"/><circle class="c" cx="498.5" cy="830.6" r="8.2"/><circle class="r" cx="360.1" cy="736.2" r="8.2"/><circle class="c" cx="281.0" cy="760.4" r="8.2"/><circle class="c" cx="500.2" cy="785.0" r="8.2"/><circle class="c" cx="407.5" cy="807.0" r="8.2"/><circle class="r" cx="300.5" cy="882.1" r="8.2"/><circle class="c" cx="447.3" cy="827.0" r="8.2"/><circle class="c" cx="421.3" cy="822.0" r="8.2"/><circle class="c" cx="542.6" cy="843.6" r="8.2"/><circle class="r" cx="424.4" cy="753.1" r="8.2"/><circle class="r" cx="534.7" cy="762.8" r="8.2"/><circle class="c" cx="471.6" cy="762.7" r="8.2"/><circle class="c" cx="461.9" cy="813.3" r="8.2"/><circle class="c" cx="473.9" cy="817.1" r="8.2"/><circle class="c" cx="412.6" cy="811.7" r="8.2"/><circle class="c" cx="351.6" cy="805.1" r="8.2"/><circle class="r" cx="350.1" cy="850.0" r="8.2"/><circle class="c" cx="526.1" cy="762.2" r="8.2"/><circle class="c" cx="403.6" cy="846.5" r="8.2"/><circle class="c" cx="503.3" cy="826.6" r="8.2"/><circle class="c" cx="457.6" cy="747.5" r="8.2"/><circle class="c" cx="534.9" cy="797.2" r="8.2"/><circle class="c" cx="242.1" cy="866.6" r="8.2"/><circle class="c" cx="522.5" cy="761.3" r="8.2"/><circle class="c" cx="417.9" cy="755.2" r="8.2"/><circle class="r" cx="319.0" cy="795.9" r="8.2"/><circle class="c" cx="383.5" cy="825.2" r="8.2"/><circle class="c" cx="529.1" cy="781.6" r="8.2"/><circle class="c" cx="376.0" cy="819.5" r="8.2"/><circle class="c" cx="391.5" cy="793.8" r="8.2"/><circle class="r" cx="333.5" cy="801.1" r="8.2"/><circle class="c" cx="424.0" cy="715.7" r="8.2"/><circle class="c" cx="429.2" cy="742.0" r="8.2"/><circle class="c" cx="398.3" cy="842.3" r="8.2"/><circle class="c" cx="462.5" cy="744.9" r="8.2"/><circle class="c" cx="378.7" cy="784.2" r="8.2"/><circle class="c" cx="484.4" cy="833.3" r="8.2"/><circle class="c" cx="427.7" cy="776.2" r="8.2"/><circle class="c" cx="449.9" cy="719.3" r="8.2"/><circle class="r" cx="330.1" cy="705.6" r="8.2"/><circle class="c" cx="359.0" cy="706.3" r="8.2"/><circle class="c" cx="391.3" cy="816.8" r="8.2"/><circle class="r" cx="328.9" cy="710.3" r="8.2"/><circle class="c" cx="353.0" cy="794.6" r="8.2"/><circle class="c" cx="338.3" cy="772.8" r="8.2"/><circle class="c" cx="532.1" cy="794.2" r="8.2"/><circle class="r" cx="494.5" cy="655.2" r="8.2"/><circle class="r" cx="466.1" cy="754.4" r="8.2"/><circle class="c" cx="432.4" cy="800.9" r="8.2"/><circle class="c" cx="312.9" cy="802.1" r="8.2"/><circle class="c" cx="459.4" cy="763.4" r="8.2"/><circle class="c" cx="355.4" cy="721.5" r="8.2"/><circle class="c" cx="512.8" cy="759.6" r="8.2"/><circle class="c" cx="491.0" cy="779.4" r="8.2"/><circle class="r" cx="281.9" cy="779.1" r="8.2"/><circle class="c" cx="393.0" cy="792.5" r="8.2"/><circle class="r" cx="291.8" cy="747.2" r="8.2"/><circle class="r" cx="328.1" cy="867.8" r="8.2"/><circle class="r" cx="298.5" cy="714.5" r="8.2"/><circle class="c" cx="924.1" cy="793.3" r="8.2"/><circle class="c" cx="350.1" cy="803.5" r="8.2"/><circle class="c" cx="364.7" cy="853.7" r="8.2"/><circle class="c" cx="386.8" cy="754.8" r="8.2"/><circle class="c" cx="440.5" cy="699.4" r="8.2"/><circle class="r" cx="271.6" cy="795.6" r="8.2"/><circle class="c" cx="409.4" cy="790.7" r="8.2"/><circle class="c" cx="526.4" cy="757.0" r="8.2"/><circle class="c" cx="412.4" cy="811.0" r="8.2"/><circle class="c" cx="459.4" cy="780.7" r="8.2"/><circle class="r" cx="288.7" cy="837.9" r="8.2"/><circle class="r" cx="476.1" cy="666.3" r="8.2"/><circle class="r" cx="295.0" cy="851.3" r="8.2"/><circle class="c" cx="380.5" cy="814.1" r="8.2"/><circle class="r" cx="310.0" cy="784.3" r="8.2"/><circle class="c" cx="504.0" cy="773.9" r="8.2"/><circle class="r" cx="439.9" cy="636.2" r="8.2"/><circle class="c" cx="438.2" cy="771.3" r="8.2"/><circle class="r" cx="269.6" cy="856.7" r="8.2"/><circle class="c" cx="456.9" cy="774.6" r="8.2"/><circle class="c" cx="405.1" cy="759.4" r="8.2"/><circle class="c" cx="460.5" cy="836.8" r="8.2"/><circle class="r" cx="273.7" cy="832.2" r="8.2"/><circle class="r" cx="315.0" cy="853.5" r="8.2"/><circle class="c" cx="508.4" cy="802.9" r="8.2"/><circle class="c" cx="368.0" cy="810.6" r="8.2"/><circle class="r" cx="266.6" cy="802.7" r="8.2"/><circle class="r" cx="315.1" cy="820.2" r="8.2"/><circle class="c" cx="495.6" cy="827.8" r="8.2"/><circle class="c" cx="471.0" cy="810.1" r="8.2"/><circle class="c" cx="423.7" cy="812.3" r="8.2"/><circle class="c" cx="381.2" cy="787.6" r="8.2"/><circle class="c" cx="414.3" cy="859.5" r="8.2"/><circle class="c" cx="389.3" cy="810.0" r="8.2"/><circle class="c" cx="437.4" cy="777.7" r="8.2"/><circle class="r" cx="477.0" cy="799.3" r="8.2"/><circle class="c" cx="499.7" cy="828.3" r="8.2"/><circle class="c" cx="370.5" cy="829.3" r="8.2"/><circle class="c" cx="311.7" cy="852.3" r="8.2"/><circle class="c" cx="414.9" cy="770.9" r="8.2"/><circle class="r" cx="272.9" cy="861.8" r="8.2"/><circle class="r" cx="273.5" cy="842.2" r="8.2"/><circle class="c" cx="427.2" cy="850.6" r="8.2"/><circle class="c" cx="470.0" cy="794.2" r="8.2"/><circle class="c" cx="512.3" cy="794.6" r="8.2"/><circle class="c" cx="513.4" cy="774.4" r="8.2"/><circle class="r" cx="283.0" cy="816.8" r="8.2"/><circle class="c" cx="382.5" cy="821.0" r="8.2"/><circle class="c" cx="443.2" cy="753.6" r="8.2"/><circle class="r" cx="326.0" cy="829.0" r="8.2"/><circle class="c" cx="480.2" cy="838.2" r="8.2"/><circle class="c" cx="481.6" cy="714.7" r="8.2"/><circle class="c" cx="435.9" cy="876.7" r="8.2"/><circle class="c" cx="389.7" cy="826.6" r="8.2"/><circle class="c" cx="484.5" cy="811.0" r="8.2"/><circle class="r" cx="290.4" cy="866.9" r="8.2"/><circle class="c" cx="405.4" cy="826.8" r="8.2"/><circle class="c" cx="391.7" cy="729.0" r="8.2"/><circle class="c" cx="505.9" cy="807.5" r="8.2"/><circle class="c" cx="376.0" cy="817.1" r="8.2"/><circle class="r" cx="172.2" cy="734.1" r="8.2"/><circle class="r" cx="320.9" cy="786.5" r="8.2"/><circle class="c" cx="443.5" cy="842.5" r="8.2"/><circle class="r" cx="324.4" cy="753.6" r="8.2"/><circle class="r" cx="307.5" cy="888.1" r="8.2"/><circle class="c" cx="395.8" cy="824.0" r="8.2"/><circle class="c" cx="386.3" cy="828.7" r="8.2"/><circle class="r" cx="304.8" cy="738.8" r="8.2"/><circle class="r" cx="319.4" cy="861.1" r="8.2"/><circle class="c" cx="367.1" cy="763.1" r="8.2"/><circle class="r" cx="396.3" cy="768.6" r="8.2"/><circle class="c" cx="537.3" cy="776.6" r="8.2"/><circle class="c" cx="438.2" cy="851.6" r="8.2"/><circle class="c" cx="590.0" cy="823.6" r="8.2"/><circle class="c" cx="378.6" cy="884.3" r="8.2"/><circle class="r" cx="303.9" cy="698.6" r="8.2"/><circle class="c" cx="424.0" cy="778.7" r="8.2"/><circle class="r" cx="321.1" cy="840.0" r="8.2"/><circle class="c" cx="461.6" cy="834.6" r="8.2"/><circle class="c" cx="380.8" cy="746.5" r="8.2"/><circle class="r" cx="325.2" cy="624.4" r="8.2"/><circle class="c" cx="797.6" cy="784.9" r="8.2"/><circle class="r" cx="291.0" cy="842.2" r="8.2"/><circle class="c" cx="400.5" cy="836.2" r="8.2"/><circle class="c" cx="237.5" cy="840.0" r="8.2"/><circle class="c" cx="473.9" cy="815.2" r="8.2"/><circle class="c" cx="403.8" cy="694.5" r="8.2"/><circle class="c" cx="473.0" cy="795.6" r="8.2"/><circle class="c" cx="378.9" cy="812.7" r="8.2"/><circle class="c" cx="423.1" cy="712.1" r="8.2"/><circle class="c" cx="444.1" cy="831.2" r="8.2"/><circle class="c" cx="294.7" cy="821.3" r="8.2"/><circle class="r" cx="313.9" cy="821.7" r="8.2"/><circle class="c" cx="457.5" cy="853.3" r="8.2"/><circle class="r" cx="376.5" cy="840.5" r="8.2"/><circle class="c" cx="453.0" cy="799.9" r="8.2"/><circle class="r" cx="302.5" cy="748.7" r="8.2"/><circle class="r" cx="310.8" cy="854.3" r="8.2"/><circle class="r" cx="318.5" cy="773.9" r="8.2"/><circle class="c" cx="487.8" cy="736.3" r="8.2"/><circle class="c" cx="366.4" cy="835.1" r="8.2"/><circle class="c" cx="453.7" cy="721.5" r="8.2"/><circle class="c" cx="540.0" cy="843.6" r="8.2"/><circle class="c" cx="433.4" cy="853.1" r="8.2"/><circle class="c" cx="397.0" cy="826.5" r="8.2"/><circle class="r" cx="330.9" cy="731.9" r="8.2"/><circle class="c" cx="493.0" cy="767.8" r="8.2"/><circle class="c" cx="365.7" cy="838.1" r="8.2"/><circle class="c" cx="456.9" cy="827.5" r="8.2"/><circle class="r" cx="321.0" cy="813.7" r="8.2"/><circle class="r" cx="303.9" cy="840.0" r="8.2"/><circle class="c" cx="445.9" cy="833.4" r="8.2"/><circle class="c" cx="373.2" cy="840.8" r="8.2"/><circle class="r" cx="275.7" cy="862.2" r="8.2"/><circle class="r" cx="361.2" cy="755.5" r="8.2"/><circle class="c" cx="413.7" cy="800.6" r="8.2"/><circle class="c" cx="422.9" cy="822.8" r="8.2"/><circle class="r" cx="330.5" cy="841.2" r="8.2"/><circle class="c" cx="546.4" cy="797.9" r="8.2"/><circle class="c" cx="361.8" cy="723.6" r="8.2"/><circle class="c" cx="487.2" cy="760.4" r="8.2"/><circle class="c" cx="237.6" cy="849.8" r="8.2"/><circle class="c" cx="392.8" cy="730.3" r="8.2"/><circle class="c" cx="468.7" cy="822.8" r="8.2"/><circle class="r" cx="338.2" cy="655.2" r="8.2"/><circle class="c" cx="495.7" cy="871.4" r="8.2"/><circle class="r" cx="335.8" cy="885.5" r="8.2"/><circle class="c" cx="340.6" cy="784.0" r="8.2"/><circle class="c" cx="451.3" cy="776.9" r="8.2"/><circle class="c" cx="450.6" cy="778.3" r="8.2"/><circle class="c" cx="453.8" cy="722.5" r="8.2"/><circle class="c" cx="329.1" cy="784.5" r="8.2"/><circle class="r" cx="307.0" cy="848.0" r="8.2"/><circle class="c" cx="519.9" cy="810.6" r="8.2"/><circle class="c" cx="402.1" cy="745.9" r="8.2"/><circle class="r" cx="302.2" cy="717.2" r="8.2"/><circle class="c" cx="422.7" cy="754.5" r="8.2"/><circle class="c" cx="348.0" cy="855.6" r="8.2"/><circle class="r" cx="339.0" cy="787.7" r="8.2"/><circle class="r" cx="436.7" cy="807.1" r="8.2"/><circle class="c" cx="387.9" cy="765.8" r="8.2"/><circle class="c" cx="423.4" cy="789.1" r="8.2"/><circle class="c" cx="385.1" cy="889.1" r="8.2"/><circle class="r" cx="647.1" cy="803.6" r="8.2"/><circle class="c" cx="528.2" cy="753.6" r="8.2"/><circle class="r" cx="315.5" cy="687.0" r="8.2"/><circle class="c" cx="311.2" cy="750.7" r="8.2"/><circle class="r" cx="333.3" cy="790.1" r="8.2"/><circle class="r" cx="297.3" cy="863.4" r="8.2"/><circle class="c" cx="462.7" cy="801.0" r="8.2"/><circle class="c" cx="410.5" cy="756.3" r="8.2"/><circle class="c" cx="560.9" cy="745.6" r="8.2"/><circle class="r" cx="265.8" cy="864.5" r="8.2"/><circle class="r" cx="295.9" cy="793.0" r="8.2"/><circle class="c" cx="446.7" cy="813.5" r="8.2"/><circle class="c" cx="527.4" cy="760.1" r="8.2"/><circle class="c" cx="351.5" cy="875.0" r="8.2"/><circle class="c" cx="399.9" cy="732.8" r="8.2"/><circle class="r" cx="271.5" cy="828.2" r="8.2"/><circle class="c" cx="419.6" cy="778.6" r="8.2"/><circle class="c" cx="373.2" cy="824.5" r="8.2"/><circle class="c" cx="465.1" cy="819.7" r="8.2"/><circle class="c" cx="422.7" cy="745.0" r="8.2"/><circle class="c" cx="469.0" cy="794.4" r="8.2"/><circle class="c" cx="332.9" cy="833.2" r="8.2"/><circle class="c" cx="493.8" cy="772.8" r="8.2"/><circle class="r" cx="303.4" cy="787.2" r="8.2"/><circle class="c" cx="415.5" cy="821.2" r="8.2"/><circle class="c" cx="494.6" cy="761.0" r="8.2"/><circle class="c" cx="421.4" cy="749.0" r="8.2"/><circle class="c" cx="434.2" cy="758.0" r="8.2"/><circle class="r" cx="308.9" cy="847.6" r="8.2"/><circle class="c" cx="407.0" cy="820.7" r="8.2"/><circle class="c" cx="525.1" cy="768.2" r="8.2"/><circle class="c" cx="380.5" cy="833.7" r="8.2"/><circle class="c" cx="401.7" cy="757.0" r="8.2"/><circle class="c" cx="320.5" cy="776.9" r="8.2"/><circle class="c" cx="416.2" cy="722.9" r="8.2"/><circle class="c" cx="520.7" cy="776.7" r="8.2"/><circle class="r" cx="304.1" cy="706.3" r="8.2"/><circle class="c" cx="847.3" cy="763.5" r="8.2"/><circle class="c" cx="433.6" cy="778.7" r="8.2"/><circle class="c" cx="381.1" cy="846.9" r="8.2"/><circle class="r" cx="401.9" cy="887.3" r="8.2"/><circle class="c" cx="585.7" cy="836.4" r="8.2"/><circle class="c" cx="454.8" cy="797.6" r="8.2"/><circle class="r" cx="281.4" cy="746.6" r="8.2"/><circle class="c" cx="541.4" cy="714.3" r="8.2"/><circle class="c" cx="564.9" cy="842.0" r="8.2"/><circle class="r" cx="242.9" cy="874.3" r="8.2"/><circle class="c" cx="481.1" cy="816.5" r="8.2"/><circle class="c" cx="522.1" cy="773.0" r="8.2"/><circle class="c" cx="509.6" cy="821.2" r="8.2"/><circle class="c" cx="387.0" cy="808.4" r="8.2"/><circle class="r" cx="462.3" cy="784.2" r="8.2"/><circle class="c" cx="519.7" cy="757.3" r="8.2"/><circle class="c" cx="327.1" cy="859.9" r="8.2"/><circle class="c" cx="443.1" cy="770.1" r="8.2"/><circle class="c" cx="363.9" cy="846.0" r="8.2"/><circle class="c" cx="512.3" cy="812.2" r="8.2"/><circle class="c" cx="365.7" cy="779.3" r="8.2"/><circle class="r" cx="436.8" cy="832.3" r="8.2"/><circle class="r" cx="303.2" cy="854.0" r="8.2"/><circle class="r" cx="473.4" cy="777.0" r="8.2"/><circle class="c" cx="509.6" cy="817.4" r="8.2"/><circle class="c" cx="477.3" cy="761.9" r="8.2"/><circle class="c" cx="450.6" cy="814.2" r="8.2"/><circle class="c" cx="485.3" cy="717.9" r="8.2"/><circle class="c" cx="411.8" cy="737.7" r="8.2"/><circle class="c" cx="397.3" cy="813.8" r="8.2"/><circle class="c" cx="412.0" cy="819.2" r="8.2"/><circle class="c" cx="364.3" cy="793.9" r="8.2"/><circle class="c" cx="477.4" cy="785.0" r="8.2"/><circle class="c" cx="512.9" cy="751.7" r="8.2"/><circle class="c" cx="357.1" cy="812.5" r="8.2"/><circle class="c" cx="384.5" cy="770.0" r="8.2"/><circle class="c" cx="338.9" cy="794.2" r="8.2"/><circle class="c" cx="416.6" cy="682.2" r="8.2"/><circle class="c" cx="469.8" cy="808.0" r="8.2"/><circle class="c" cx="332.3" cy="771.8" r="8.2"/><circle class="r" cx="249.3" cy="905.7" r="8.2"/><circle class="c" cx="410.1" cy="833.0" r="8.2"/><circle class="c" cx="484.6" cy="751.4" r="8.2"/><circle class="r" cx="289.4" cy="836.4" r="8.2"/><circle class="c" cx="412.0" cy="815.4" r="8.2"/><circle class="c" cx="516.0" cy="821.1" r="8.2"/><circle class="c" cx="502.5" cy="804.1" r="8.2"/><circle class="c" cx="494.6" cy="763.2" r="8.2"/><circle class="r" cx="337.6" cy="677.3" r="8.2"/><circle class="c" cx="491.5" cy="753.8" r="8.2"/><circle class="c" cx="392.9" cy="752.8" r="8.2"/><circle class="c" cx="477.3" cy="807.4" r="8.2"/><circle class="c" cx="326.6" cy="834.6" r="8.2"/><circle class="r" cx="338.1" cy="825.7" r="8.2"/><circle class="r" cx="580.0" cy="794.3" r="8.2"/><circle class="c" cx="403.0" cy="807.0" r="8.2"/><circle class="c" cx="477.3" cy="749.7" r="8.2"/><circle class="r" cx="310.3" cy="878.0" r="8.2"/><circle class="c" cx="444.7" cy="745.0" r="8.2"/><circle class="c" cx="540.9" cy="768.5" r="8.2"/><circle class="c" cx="450.1" cy="809.9" r="8.2"/><circle class="c" cx="400.4" cy="787.0" r="8.2"/><circle class="c" cx="429.2" cy="755.9" r="8.2"/><circle class="r" cx="430.2" cy="885.1" r="8.2"/><circle class="c" cx="454.7" cy="799.8" r="8.2"/><circle class="r" cx="286.0" cy="850.2" r="8.2"/><circle class="r" cx="468.7" cy="685.9" r="8.2"/><circle class="r" cx="245.7" cy="850.0" r="8.2"/><circle class="c" cx="449.3" cy="840.8" r="8.2"/><circle class="c" cx="380.1" cy="884.5" r="8.2"/><circle class="r" cx="312.9" cy="864.8" r="8.2"/><circle class="r" cx="276.1" cy="748.9" r="8.2"/><circle class="c" cx="454.4" cy="768.2" r="8.2"/><circle class="r" cx="305.4" cy="856.8" r="8.2"/><circle class="c" cx="538.9" cy="795.9" r="8.2"/><circle class="c" cx="447.6" cy="716.4" r="8.2"/><circle class="r" cx="303.3" cy="879.4" r="8.2"/><circle class="c" cx="553.1" cy="789.3" r="8.2"/><circle class="c" cx="622.1" cy="732.1" r="8.2"/><circle class="c" cx="462.4" cy="833.3" r="8.2"/><circle class="c" cx="460.0" cy="752.1" r="8.2"/><circle class="c" cx="521.9" cy="776.6" r="8.2"/><circle class="c" cx="452.1" cy="695.6" r="8.2"/><circle class="c" cx="334.8" cy="763.0" r="8.2"/><circle class="r" cx="296.6" cy="746.4" r="8.2"/><circle class="c" cx="469.2" cy="697.3" r="8.2"/><circle class="c" cx="436.7" cy="751.0" r="8.2"/><circle class="c" cx="438.8" cy="796.5" r="8.2"/><circle class="r" cx="318.3" cy="758.1" r="8.2"/><circle class="r" cx="369.9" cy="820.8" r="8.2"/><circle class="c" cx="370.3" cy="853.5" r="8.2"/><circle class="c" cx="460.4" cy="720.5" r="8.2"/><circle class="r" cx="318.2" cy="861.1" r="8.2"/><circle class="r" cx="751.8" cy="806.5" r="8.2"/><circle class="r" cx="380.5" cy="682.2" r="8.2"/><circle class="c" cx="378.4" cy="857.5" r="8.2"/><circle class="r" cx="177.8" cy="758.6" r="8.2"/><circle class="c" cx="467.5" cy="647.9" r="8.2"/><circle class="r" cx="291.3" cy="869.3" r="8.2"/><circle class="c" cx="455.6" cy="828.3" r="8.2"/><circle class="r" cx="322.5" cy="761.4" r="8.2"/><circle class="c" cx="381.3" cy="855.9" r="8.2"/><circle class="c" cx="497.5" cy="756.9" r="8.2"/><circle class="c" cx="475.1" cy="783.8" r="8.2"/><circle class="r" cx="341.8" cy="844.1" r="8.2"/><circle class="c" cx="422.4" cy="738.9" r="8.2"/><circle class="c" cx="320.5" cy="830.9" r="8.2"/><circle class="r" cx="350.0" cy="805.0" r="8.2"/><circle class="c" cx="384.4" cy="775.6" r="8.2"/><circle class="r" cx="290.4" cy="877.8" r="8.2"/><circle class="c" cx="451.4" cy="831.5" r="8.2"/><circle class="c" cx="514.1" cy="793.2" r="8.2"/><circle class="c" cx="448.2" cy="789.8" r="8.2"/><circle class="c" cx="487.6" cy="816.5" r="8.2"/><circle class="c" cx="394.0" cy="828.2" r="8.2"/><circle class="c" cx="368.3" cy="815.2" r="8.2"/><circle class="c" cx="461.0" cy="796.0" r="8.2"/><circle class="c" cx="442.7" cy="825.6" r="8.2"/><circle class="c" cx="485.3" cy="767.7" r="8.2"/><circle class="c" cx="457.0" cy="810.8" r="8.2"/><circle class="c" cx="398.7" cy="745.8" r="8.2"/><circle class="c" cx="427.8" cy="794.9" r="8.2"/><circle class="c" cx="442.6" cy="852.9" r="8.2"/><circle class="c" cx="436.7" cy="709.8" r="8.2"/><circle class="c" cx="439.5" cy="842.6" r="8.2"/><circle class="c" cx="444.3" cy="838.0" r="8.2"/><circle class="c" cx="418.8" cy="812.9" r="8.2"/><circle class="r" cx="300.7" cy="894.6" r="8.2"/><circle class="c" cx="479.4" cy="824.8" r="8.2"/><circle class="c" cx="479.4" cy="764.2" r="8.2"/><circle class="c" cx="353.8" cy="744.7" r="8.2"/><circle class="r" cx="267.9" cy="834.0" r="8.2"/><circle class="r" cx="263.6" cy="849.8" r="8.2"/><circle class="r" cx="338.2" cy="859.1" r="8.2"/><circle class="r" cx="272.7" cy="762.3" r="8.2"/><circle class="c" cx="337.2" cy="779.6" r="8.2"/><circle class="r" cx="311.8" cy="875.8" r="8.2"/><circle class="c" cx="380.7" cy="722.1" r="8.2"/><circle class="c" cx="437.3" cy="838.7" r="8.2"/><circle class="c" cx="516.8" cy="787.7" r="8.2"/><circle class="c" cx="375.1" cy="801.0" r="8.2"/><circle class="c" cx="310.1" cy="781.7" r="8.2"/><circle class="r" cx="245.8" cy="830.9" r="8.2"/><circle class="c" cx="411.6" cy="792.1" r="8.2"/><circle class="c" cx="432.7" cy="762.9" r="8.2"/><circle class="c" cx="420.3" cy="853.9" r="8.2"/><circle class="c" cx="382.0" cy="754.3" r="8.2"/><circle class="c" cx="424.7" cy="850.3" r="8.2"/><circle class="c" cx="426.2" cy="739.2" r="8.2"/><circle class="c" cx="400.1" cy="803.5" r="8.2"/><circle class="c" cx="377.5" cy="820.5" r="8.2"/><circle class="r" cx="318.0" cy="731.7" r="8.2"/><circle class="r" cx="351.6" cy="810.6" r="8.2"/><circle class="c" cx="427.3" cy="752.5" r="8.2"/><circle class="c" cx="464.2" cy="735.1" r="8.2"/><circle class="r" cx="267.3" cy="828.2" r="8.2"/><circle class="r" cx="507.0" cy="791.2" r="8.2"/><circle class="c" cx="424.2" cy="826.8" r="8.2"/><circle class="c" cx="384.3" cy="818.6" r="8.2"/><circle class="c" cx="352.1" cy="820.7" r="8.2"/><circle class="c" cx="418.2" cy="751.0" r="8.2"/><circle class="c" cx="379.2" cy="850.4" r="8.2"/><circle class="r" cx="331.2" cy="800.5" r="8.2"/><circle class="c" cx="451.1" cy="793.3" r="8.2"/><circle class="c" cx="513.3" cy="759.8" r="8.2"/><circle class="c" cx="533.8" cy="764.9" r="8.2"/><circle class="r" cx="501.9" cy="808.9" r="8.2"/><circle class="c" cx="448.4" cy="746.9" r="8.2"/><circle class="c" cx="547.8" cy="805.5" r="8.2"/><circle class="c" cx="474.6" cy="812.4" r="8.2"/><circle class="c" cx="496.2" cy="738.7" r="8.2"/><circle class="c" cx="444.9" cy="821.9" r="8.2"/><circle class="c" cx="474.0" cy="716.1" r="8.2"/><circle class="r" cx="309.8" cy="792.1" r="8.2"/><circle class="c" cx="523.3" cy="794.5" r="8.2"/><circle class="r" cx="307.8" cy="847.7" r="8.2"/><circle class="c" cx="360.0" cy="784.7" r="8.2"/><circle class="c" cx="483.7" cy="864.3" r="8.2"/><circle class="c" cx="484.6" cy="738.4" r="8.2"/><circle class="r" cx="297.9" cy="745.2" r="8.2"/><circle class="c" cx="462.2" cy="749.2" r="8.2"/><circle class="r" cx="297.2" cy="855.3" r="8.2"/><circle class="c" cx="470.8" cy="818.1" r="8.2"/><circle class="r" cx="313.6" cy="784.4" r="8.2"/><circle class="r" cx="329.7" cy="789.0" r="8.2"/><circle class="r" cx="495.8" cy="744.5" r="8.2"/><circle class="r" cx="321.2" cy="770.5" r="8.2"/><circle class="r" cx="285.5" cy="779.0" r="8.2"/><circle class="c" cx="432.0" cy="781.7" r="8.2"/><circle class="c" cx="375.0" cy="815.2" r="8.2"/><circle class="c" cx="461.8" cy="748.5" r="8.2"/><circle class="c" cx="315.6" cy="732.9" r="8.2"/><circle class="r" cx="321.7" cy="678.5" r="8.2"/><circle class="c" cx="375.7" cy="746.0" r="8.2"/><circle class="c" cx="459.7" cy="835.8" r="8.2"/><circle class="r" cx="287.3" cy="873.3" r="8.2"/><circle class="c" cx="432.2" cy="831.2" r="8.2"/><circle class="c" cx="443.5" cy="799.4" r="8.2"/><circle class="c" cx="420.2" cy="855.1" r="8.2"/><circle class="c" cx="475.2" cy="823.1" r="8.2"/><circle class="c" cx="392.5" cy="835.0" r="8.2"/><circle class="c" cx="506.1" cy="795.4" r="8.2"/><circle class="c" cx="344.3" cy="941.4" r="8.2"/><circle class="c" cx="469.6" cy="755.9" r="8.2"/><circle class="c" cx="507.7" cy="774.9" r="8.2"/><circle class="c" cx="433.7" cy="826.7" r="8.2"/><circle class="c" cx="387.7" cy="839.2" r="8.2"/><circle class="c" cx="582.9" cy="722.9" r="8.2"/><circle class="c" cx="420.2" cy="745.2" r="8.2"/><circle class="r" cx="244.3" cy="862.9" r="8.2"/><circle class="c" cx="512.5" cy="766.0" r="8.2"/><circle class="r" cx="324.3" cy="695.3" r="8.2"/><circle class="c" cx="444.8" cy="778.6" r="8.2"/><circle class="c" cx="502.4" cy="729.3" r="8.2"/><circle class="r" cx="323.8" cy="849.5" r="8.2"/><circle class="c" cx="385.9" cy="809.7" r="8.2"/><circle class="r" cx="514.2" cy="788.7" r="8.2"/><circle class="r" cx="309.0" cy="849.5" r="8.2"/><circle class="c" cx="350.9" cy="806.3" r="8.2"/><circle class="r" cx="424.2" cy="782.5" r="8.2"/><circle class="c" cx="385.6" cy="824.7" r="8.2"/><circle class="c" cx="453.5" cy="820.5" r="8.2"/><circle class="r" cx="285.6" cy="820.9" r="8.2"/><circle class="c" cx="443.4" cy="798.7" r="8.2"/><circle class="r" cx="263.3" cy="846.9" r="8.2"/><circle class="c" cx="402.3" cy="827.4" r="8.2"/><circle class="c" cx="380.7" cy="857.6" r="8.2"/><circle class="c" cx="471.4" cy="860.0" r="8.2"/><circle class="c" cx="493.5" cy="802.6" r="8.2"/><circle class="c" cx="380.2" cy="778.8" r="8.2"/><circle class="c" cx="392.2" cy="742.4" r="8.2"/><circle class="c" cx="407.3" cy="797.1" r="8.2"/><circle class="r" cx="260.9" cy="861.6" r="8.2"/><circle class="c" cx="522.0" cy="774.8" r="8.2"/><circle class="r" cx="344.9" cy="749.2" r="8.2"/><circle class="c" cx="336.9" cy="780.4" r="8.2"/><circle class="r" cx="452.3" cy="791.8" r="8.2"/><circle class="c" cx="397.9" cy="796.7" r="8.2"/><circle class="c" cx="427.7" cy="749.0" r="8.2"/><circle class="c" cx="441.5" cy="804.5" r="8.2"/><circle class="c" cx="380.7" cy="771.9" r="8.2"/><circle class="c" cx="483.4" cy="784.0" r="8.2"/><circle class="c" cx="326.6" cy="747.1" r="8.2"/><circle class="c" cx="446.1" cy="803.3" r="8.2"/><circle class="c" cx="379.5" cy="800.5" r="8.2"/><circle class="c" cx="335.4" cy="899.8" r="8.2"/><circle class="c" cx="505.3" cy="754.4" r="8.2"/><circle class="r" cx="299.3" cy="838.7" r="8.2"/><circle class="c" cx="458.7" cy="799.2" r="8.2"/><circle class="c" cx="647.1" cy="750.0" r="8.2"/><circle class="c" cx="473.1" cy="742.0" r="8.2"/><circle class="c" cx="326.1" cy="904.4" r="8.2"/><circle class="c" cx="400.7" cy="846.0" r="8.2"/><circle class="c" cx="324.1" cy="850.2" r="8.2"/><circle class="c" cx="454.0" cy="804.5" r="8.2"/><circle class="c" cx="434.6" cy="792.4" r="8.2"/><circle class="c" cx="388.4" cy="821.8" r="8.2"/><circle class="r" cx="261.3" cy="837.0" r="8.2"/><circle class="r" cx="305.2" cy="869.6" r="8.2"/><circle class="r" cx="310.6" cy="846.7" r="8.2"/><circle class="r" cx="303.0" cy="862.5" r="8.2"/><circle class="r" cx="350.0" cy="759.8" r="8.2"/><circle class="c" cx="571.6" cy="787.1" r="8.2"/><circle class="r" cx="267.7" cy="873.2" r="8.2"/><circle class="r" cx="404.3" cy="809.7" r="8.2"/><circle class="c" cx="335.4" cy="826.6" r="8.2"/><circle class="c" cx="431.7" cy="823.2" r="8.2"/><circle class="c" cx="352.3" cy="875.3" r="8.2"/><circle class="c" cx="360.3" cy="781.7" r="8.2"/><circle class="r" cx="268.0" cy="844.3" r="8.2"/><circle class="r" cx="291.0" cy="849.6" r="8.2"/><circle class="c" cx="363.7" cy="744.9" r="8.2"/><circle class="c" cx="382.8" cy="841.7" r="8.2"/><circle class="c" cx="506.6" cy="821.4" r="8.2"/><circle class="r" cx="445.4" cy="805.6" r="8.2"/><circle class="c" cx="499.1" cy="758.4" r="8.2"/><circle class="c" cx="492.8" cy="749.6" r="8.2"/><circle class="r" cx="424.3" cy="716.7" r="8.2"/><circle class="c" cx="418.9" cy="811.1" r="8.2"/><circle class="r" cx="296.4" cy="896.9" r="8.2"/><circle class="c" cx="483.9" cy="831.6" r="8.2"/><circle class="c" cx="397.7" cy="761.3" r="8.2"/><circle class="c" cx="466.2" cy="733.2" r="8.2"/><circle class="c" cx="386.1" cy="719.3" r="8.2"/><circle class="c" cx="346.0" cy="787.5" r="8.2"/><circle class="c" cx="384.1" cy="711.3" r="8.2"/><circle class="c" cx="317.2" cy="759.2" r="8.2"/><circle class="c" cx="371.1" cy="834.2" r="8.2"/><circle class="c" cx="863.1" cy="793.9" r="8.2"/><circle class="c" cx="445.5" cy="776.6" r="8.2"/><circle class="c" cx="447.0" cy="722.1" r="8.2"/><circle class="c" cx="326.3" cy="870.3" r="8.2"/><circle class="r" cx="508.8" cy="770.0" r="8.2"/><circle class="r" cx="291.3" cy="860.2" r="8.2"/><circle class="c" cx="377.0" cy="789.9" r="8.2"/><circle class="r" cx="332.5" cy="788.7" r="8.2"/><circle class="c" cx="359.0" cy="805.0" r="8.2"/><circle class="c" cx="424.5" cy="734.6" r="8.2"/><circle class="c" cx="456.2" cy="745.1" r="8.2"/><circle class="c" cx="466.6" cy="734.4" r="8.2"/><circle class="c" cx="403.5" cy="840.1" r="8.2"/><circle class="c" cx="481.1" cy="772.7" r="8.2"/><circle class="c" cx="480.2" cy="807.2" r="8.2"/><circle class="r" cx="326.5" cy="808.6" r="8.2"/><circle class="c" cx="376.1" cy="799.1" r="8.2"/><circle class="r" cx="305.7" cy="710.1" r="8.2"/><circle class="c" cx="471.8" cy="751.1" r="8.2"/><circle class="c" cx="378.4" cy="783.8" r="8.2"/><circle class="r" cx="337.7" cy="778.3" r="8.2"/><circle class="r" cx="412.4" cy="839.3" r="8.2"/><circle class="c" cx="363.8" cy="760.7" r="8.2"/><circle class="r" cx="292.6" cy="701.7" r="8.2"/><circle class="c" cx="536.3" cy="800.0" r="8.2"/><circle class="c" cx="535.3" cy="810.4" r="8.2"/><circle class="c" cx="426.3" cy="766.3" r="8.2"/><circle class="r" cx="508.1" cy="807.3" r="8.2"/><circle class="c" cx="334.3" cy="795.2" r="8.2"/><circle class="r" cx="265.3" cy="816.3" r="8.2"/><circle class="r" cx="322.3" cy="813.5" r="8.2"/><circle class="r" cx="307.0" cy="696.9" r="8.2"/><circle class="c" cx="466.3" cy="737.3" r="8.2"/><circle class="c" cx="552.9" cy="740.0" r="8.2"/><circle class="c" cx="502.9" cy="862.9" r="8.2"/><circle class="c" cx="459.3" cy="836.3" r="8.2"/><circle class="r" cx="311.0" cy="846.9" r="8.2"/><circle class="c" cx="463.1" cy="727.7" r="8.2"/><circle class="r" cx="271.3" cy="839.8" r="8.2"/><circle class="r" cx="334.3" cy="746.3" r="8.2"/><circle class="r" cx="321.6" cy="798.2" r="8.2"/><circle class="r" cx="353.9" cy="894.7" r="8.2"/><circle class="c" cx="369.1" cy="809.6" r="8.2"/><circle class="c" cx="332.5" cy="824.8" r="8.2"/><circle class="c" cx="501.2" cy="778.7" r="8.2"/><circle class="c" cx="552.4" cy="796.2" r="8.2"/><circle class="r" cx="287.3" cy="846.5" r="8.2"/><circle class="r" cx="281.5" cy="818.6" r="8.2"/><circle class="c" cx="368.9" cy="771.5" r="8.2"/><circle class="r" cx="316.6" cy="815.1" r="8.2"/><circle class="c" cx="417.5" cy="837.6" r="8.2"/><circle class="c" cx="465.9" cy="808.7" r="8.2"/><circle class="c" cx="489.3" cy="748.9" r="8.2"/><circle class="c" cx="364.9" cy="830.7" r="8.2"/><circle class="c" cx="417.4" cy="742.8" r="8.2"/><circle class="c" cx="414.8" cy="802.3" r="8.2"/><circle class="c" cx="354.0" cy="807.8" r="8.2"/><circle class="c" cx="477.5" cy="740.0" r="8.2"/><circle class="c" cx="406.8" cy="852.0" r="8.2"/><circle class="r" cx="467.4" cy="846.2" r="8.2"/><circle class="c" cx="590.4" cy="803.1" r="8.2"/><circle class="c" cx="415.8" cy="722.8" r="8.2"/><circle class="c" cx="409.2" cy="740.8" r="8.2"/><circle class="c" cx="340.0" cy="776.0" r="8.2"/><circle class="c" cx="474.8" cy="797.0" r="8.2"/><circle class="c" cx="465.2" cy="768.3" r="8.2"/><circle class="r" cx="275.3" cy="774.3" r="8.2"/><circle class="c" cx="376.5" cy="787.0" r="8.2"/><circle class="c" cx="509.3" cy="764.9" r="8.2"/><circle class="c" cx="472.2" cy="824.3" r="8.2"/><circle class="c" cx="494.3" cy="821.6" r="8.2"/><circle class="c" cx="455.6" cy="835.0" r="8.2"/><circle class="c" cx="449.7" cy="784.4" r="8.2"/><circle class="r" cx="371.3" cy="881.6" r="8.2"/><circle class="c" cx="427.4" cy="784.2" r="8.2"/><circle class="r" cx="394.6" cy="663.2" r="8.2"/><circle class="c" cx="384.6" cy="787.2" r="8.2"/><circle class="c" cx="438.4" cy="792.6" r="8.2"/><circle class="r" cx="334.6" cy="822.8" r="8.2"/><circle class="c" cx="434.1" cy="787.3" r="8.2"/><circle class="c" cx="462.7" cy="790.7" r="8.2"/><circle class="c" cx="356.4" cy="815.9" r="8.2"/><circle class="c" cx="539.5" cy="776.1" r="8.2"/><circle class="r" cx="273.0" cy="875.4" r="8.2"/><circle class="r" cx="336.2" cy="845.5" r="8.2"/><circle class="c" cx="445.0" cy="776.7" r="8.2"/><circle class="c" cx="530.5" cy="811.8" r="8.2"/><circle class="r" cx="319.2" cy="821.9" r="8.2"/><circle class="c" cx="386.5" cy="700.9" r="8.2"/><circle class="c" cx="410.7" cy="801.4" r="8.2"/><circle class="c" cx="499.5" cy="783.1" r="8.2"/><circle class="c" cx="377.1" cy="835.6" r="8.2"/><circle class="c" cx="404.1" cy="792.6" r="8.2"/><circle class="c" cx="460.5" cy="793.6" r="8.2"/><circle class="r" cx="282.5" cy="652.2" r="8.2"/><circle class="c" cx="389.3" cy="729.7" r="8.2"/><circle class="c" cx="348.7" cy="768.4" r="8.2"/><circle class="r" cx="288.2" cy="874.2" r="8.2"/><circle class="c" cx="567.7" cy="828.4" r="8.2"/><circle class="c" cx="357.0" cy="767.0" r="8.2"/><circle class="r" cx="335.1" cy="767.1" r="8.2"/><circle class="c" cx="404.7" cy="784.9" r="8.2"/><circle class="r" cx="292.5" cy="830.5" r="8.2"/><circle class="r" cx="335.6" cy="836.2" r="8.2"/><circle class="c" cx="248.8" cy="910.8" r="8.2"/><circle class="c" cx="485.2" cy="749.8" r="8.2"/><circle class="c" cx="423.4" cy="711.4" r="8.2"/><circle class="c" cx="418.7" cy="855.7" r="8.2"/><circle class="c" cx="409.0" cy="824.5" r="8.2"/><circle class="c" cx="521.7" cy="732.2" r="8.2"/><circle class="r" cx="260.1" cy="858.5" r="8.2"/><circle class="c" cx="420.0" cy="833.6" r="8.2"/><circle class="r" cx="313.5" cy="834.7" r="8.2"/><circle class="c" cx="472.6" cy="742.8" r="8.2"/><circle class="c" cx="489.2" cy="784.7" r="8.2"/><circle class="r" cx="302.9" cy="873.0" r="8.2"/><circle class="r" cx="284.0" cy="860.7" r="8.2"/><circle class="c" cx="403.3" cy="739.6" r="8.2"/><circle class="c" cx="490.9" cy="794.4" r="8.2"/><circle class="c" cx="449.8" cy="702.3" r="8.2"/><circle class="r" cx="296.0" cy="828.8" r="8.2"/><circle class="c" cx="338.6" cy="818.7" r="8.2"/><circle class="r" cx="303.3" cy="669.0" r="8.2"/><circle class="c" cx="504.0" cy="785.4" r="8.2"/><circle class="r" cx="343.6" cy="955.0" r="8.2"/><circle class="c" cx="375.6" cy="834.6" r="8.2"/><circle class="c" cx="481.2" cy="811.3" r="8.2"/><circle class="c" cx="414.8" cy="799.3" r="8.2"/><circle class="c" cx="474.8" cy="786.5" r="8.2"/><circle class="r" cx="270.0" cy="829.5" r="8.2"/><circle class="c" cx="453.2" cy="800.4" r="8.2"/><circle class="c" cx="395.9" cy="741.2" r="8.2"/><circle class="c" cx="355.5" cy="878.7" r="8.2"/><circle class="c" cx="442.2" cy="761.1" r="8.2"/><circle class="c" cx="412.9" cy="837.0" r="8.2"/><circle class="c" cx="414.4" cy="821.7" r="8.2"/><circle class="c" cx="393.3" cy="788.5" r="8.2"/><circle class="c" cx="468.9" cy="792.2" r="8.2"/><circle class="c" cx="508.3" cy="817.5" r="8.2"/><circle class="c" cx="513.4" cy="764.1" r="8.2"/><circle class="r" cx="281.4" cy="761.7" r="8.2"/><circle class="c" cx="315.2" cy="831.1" r="8.2"/><circle class="r" cx="276.1" cy="800.5" r="8.2"/><circle class="r" cx="304.4" cy="854.8" r="8.2"/><circle class="r" cx="309.7" cy="833.4" r="8.2"/><circle class="c" cx="378.4" cy="832.6" r="8.2"/><circle class="c" cx="474.1" cy="768.4" r="8.2"/><circle class="c" cx="367.0" cy="847.3" r="8.2"/><circle class="c" cx="385.5" cy="765.4" r="8.2"/><circle class="c" cx="494.8" cy="744.4" r="8.2"/><circle class="c" cx="551.3" cy="797.3" r="8.2"/><circle class="r" cx="327.0" cy="898.2" r="8.2"/><circle class="c" cx="424.6" cy="639.3" r="8.2"/><circle class="c" cx="461.1" cy="784.5" r="8.2"/><circle class="c" cx="491.2" cy="819.9" r="8.2"/><circle class="c" cx="423.7" cy="773.8" r="8.2"/><circle class="c" cx="503.0" cy="779.1" r="8.2"/><circle class="c" cx="463.1" cy="737.8" r="8.2"/><circle class="r" cx="326.3" cy="709.2" r="8.2"/><circle class="c" cx="406.2" cy="816.3" r="8.2"/><circle class="c" cx="444.4" cy="803.5" r="8.2"/><circle class="r" cx="340.3" cy="851.6" r="8.2"/><circle class="c" cx="431.1" cy="827.7" r="8.2"/><circle class="c" cx="478.6" cy="718.6" r="8.2"/><circle class="r" cx="303.3" cy="669.6" r="8.2"/><circle class="c" cx="484.8" cy="772.3" r="8.2"/><circle class="r" cx="376.6" cy="899.2" r="8.2"/><circle class="c" cx="355.6" cy="729.3" r="8.2"/><circle class="r" cx="341.4" cy="706.7" r="8.2"/><circle class="r" cx="294.3" cy="830.2" r="8.2"/><circle class="c" cx="479.4" cy="818.0" r="8.2"/><circle class="c" cx="415.7" cy="767.9" r="8.2"/><circle class="c" cx="685.7" cy="751.7" r="8.2"/><circle class="c" cx="410.1" cy="808.9" r="8.2"/><circle class="c" cx="442.9" cy="782.6" r="8.2"/><circle class="r" cx="310.2" cy="851.6" r="8.2"/><circle class="c" cx="428.1" cy="846.0" r="8.2"/><circle class="c" cx="423.0" cy="847.1" r="8.2"/><circle class="c" cx="337.3" cy="769.1" r="8.2"/><circle class="r" cx="308.3" cy="767.1" r="8.2"/><circle class="c" cx="365.7" cy="845.8" r="8.2"/><circle class="r" cx="298.9" cy="843.4" r="8.2"/><circle class="c" cx="423.7" cy="831.5" r="8.2"/><circle class="c" cx="521.5" cy="754.2" r="8.2"/><circle class="c" cx="489.9" cy="739.7" r="8.2"/><circle class="r" cx="300.8" cy="828.4" r="8.2"/><circle class="c" cx="452.8" cy="838.8" r="8.2"/><circle class="c" cx="477.8" cy="838.4" r="8.2"/><circle class="r" cx="262.7" cy="817.5" r="8.2"/><circle class="c" cx="446.0" cy="854.4" r="8.2"/><circle class="c" cx="337.3" cy="827.3" r="8.2"/><circle class="r" cx="271.3" cy="897.7" r="8.2"/><circle class="c" cx="457.2" cy="752.0" r="8.2"/><circle class="r" cx="309.5" cy="878.4" r="8.2"/><circle class="c" cx="474.8" cy="845.3" r="8.2"/><circle class="c" cx="565.7" cy="812.9" r="8.2"/><circle class="c" cx="462.4" cy="821.3" r="8.2"/><circle class="c" cx="286.8" cy="867.7" r="8.2"/><circle class="c" cx="425.9" cy="804.8" r="8.2"/><circle class="c" cx="502.1" cy="822.3" r="8.2"/><circle class="c" cx="458.1" cy="847.4" r="8.2"/><circle class="c" cx="515.8" cy="807.8" r="8.2"/><circle class="r" cx="334.1" cy="712.6" r="8.2"/><circle class="c" cx="409.9" cy="858.2" r="8.2"/><circle class="r" cx="342.9" cy="901.1" r="8.2"/><circle class="r" cx="202.3" cy="739.0" r="8.2"/><circle class="c" cx="448.1" cy="828.0" r="8.2"/><circle class="c" cx="497.5" cy="755.5" r="8.2"/><circle class="c" cx="423.5" cy="784.7" r="8.2"/><circle class="r" cx="311.8" cy="806.9" r="8.2"/><circle class="c" cx="438.7" cy="814.4" r="8.2"/><circle class="c" cx="314.3" cy="843.7" r="8.2"/><circle class="c" cx="453.2" cy="740.6" r="8.2"/><circle class="c" cx="390.7" cy="833.3" r="8.2"/><circle class="c" cx="353.6" cy="794.4" r="8.2"/><circle class="r" cx="323.2" cy="614.1" r="8.2"/><circle class="c" cx="323.0" cy="848.4" r="8.2"/><circle class="c" cx="458.8" cy="821.8" r="8.2"/><circle class="c" cx="431.4" cy="733.0" r="8.2"/><circle class="c" cx="475.6" cy="819.0" r="8.2"/><circle class="c" cx="477.6" cy="772.7" r="8.2"/><circle class="c" cx="424.0" cy="799.3" r="8.2"/><circle class="c" cx="369.4" cy="725.5" r="8.2"/><circle class="c" cx="536.2" cy="759.9" r="8.2"/><circle class="c" cx="393.3" cy="720.2" r="8.2"/><circle class="c" cx="442.7" cy="795.2" r="8.2"/><circle class="c" cx="610.7" cy="757.1" r="8.2"/><circle class="r" cx="419.8" cy="760.8" r="8.2"/><circle class="c" cx="431.0" cy="752.9" r="8.2"/><circle class="c" cx="481.5" cy="797.2" r="8.2"/><circle class="r" cx="311.4" cy="796.0" r="8.2"/><circle class="c" cx="443.4" cy="808.3" r="8.2"/><circle class="c" cx="490.8" cy="823.2" r="8.2"/><circle class="c" cx="472.7" cy="803.0" r="8.2"/><circle class="r" cx="257.7" cy="856.7" r="8.2"/><circle class="c" cx="525.0" cy="762.0" r="8.2"/><circle class="c" cx="407.0" cy="793.6" r="8.2"/><circle class="c" cx="447.0" cy="820.3" r="8.2"/><circle class="r" cx="306.7" cy="860.6" r="8.2"/><circle class="c" cx="346.9" cy="824.7" r="8.2"/><circle class="c" cx="521.1" cy="812.1" r="8.2"/><circle class="c" cx="324.9" cy="827.6" r="8.2"/><circle class="c" cx="399.1" cy="774.3" r="8.2"/><circle class="c" cx="428.3" cy="756.1" r="8.2"/><circle class="c" cx="422.8" cy="748.1" r="8.2"/><circle class="c" cx="445.0" cy="714.6" r="8.2"/><circle class="c" cx="313.9" cy="771.1" r="8.2"/><circle class="c" cx="315.6" cy="754.2" r="8.2"/><circle class="r" cx="268.8" cy="780.6" r="8.2"/><circle class="c" cx="783.5" cy="763.5" r="8.2"/><circle class="c" cx="393.2" cy="760.5" r="8.2"/><circle class="c" cx="417.8" cy="833.2" r="8.2"/><circle class="r" cx="269.0" cy="775.8" r="8.2"/><circle class="c" cx="483.6" cy="795.3" r="8.2"/><circle class="c" cx="362.0" cy="711.7" r="8.2"/><circle class="c" cx="456.0" cy="758.8" r="8.2"/><circle class="r" cx="641.4" cy="726.4" r="8.2"/><circle class="r" cx="284.4" cy="855.8" r="8.2"/><circle class="c" cx="503.9" cy="786.5" r="8.2"/><circle class="r" cx="290.2" cy="717.8" r="8.2"/><circle class="c" cx="426.5" cy="726.2" r="8.2"/><circle class="r" cx="276.3" cy="875.8" r="8.2"/><circle class="c" cx="422.6" cy="843.8" r="8.2"/><circle class="c" cx="398.3" cy="831.1" r="8.2"/><circle class="r" cx="315.9" cy="824.5" r="8.2"/><circle class="c" cx="394.3" cy="839.1" r="8.2"/><circle class="c" cx="409.9" cy="723.6" r="8.2"/><circle class="c" cx="443.0" cy="714.2" r="8.2"/><circle class="r" cx="279.6" cy="823.9" r="8.2"/><circle class="r" cx="350.4" cy="729.2" r="8.2"/><circle class="c" cx="429.4" cy="829.2" r="8.2"/><circle class="c" cx="532.6" cy="802.8" r="8.2"/><circle class="c" cx="522.9" cy="800.2" r="8.2"/><circle class="c" cx="327.8" cy="831.8" r="8.2"/><circle class="r" cx="376.0" cy="745.2" r="8.2"/><circle class="c" cx="481.3" cy="745.4" r="8.2"/><circle class="r" cx="326.3" cy="823.1" r="8.2"/><circle class="r" cx="309.4" cy="763.4" r="8.2"/><circle class="c" cx="504.1" cy="821.0" r="8.2"/><circle class="c" cx="491.9" cy="775.3" r="8.2"/><circle class="r" cx="273.9" cy="877.1" r="8.2"/><circle class="c" cx="405.6" cy="730.0" r="8.2"/><circle class="c" cx="406.5" cy="837.8" r="8.2"/><circle class="r" cx="369.5" cy="774.0" r="8.2"/><circle class="c" cx="416.6" cy="788.4" r="8.2"/><circle class="c" cx="418.5" cy="786.9" r="8.2"/><circle class="c" cx="516.6" cy="821.7" r="8.2"/><circle class="r" cx="318.7" cy="871.3" r="8.2"/><circle class="c" cx="372.2" cy="853.4" r="8.2"/><circle class="c" cx="343.8" cy="869.3" r="8.2"/><circle class="c" cx="368.0" cy="773.6" r="8.2"/><circle class="c" cx="549.8" cy="826.4" r="8.2"/><circle class="c" cx="515.0" cy="797.2" r="8.2"/><circle class="c" cx="414.6" cy="811.8" r="8.2"/><circle class="c" cx="390.0" cy="808.2" r="8.2"/><circle class="r" cx="305.8" cy="701.0" r="8.2"/><circle class="c" cx="470.6" cy="742.3" r="8.2"/><circle class="r" cx="323.2" cy="698.6" r="8.2"/><circle class="r" cx="291.0" cy="877.1" r="8.2"/><circle class="c" cx="414.0" cy="831.5" r="8.2"/><circle class="c" cx="416.2" cy="826.2" r="8.2"/><circle class="c" cx="487.7" cy="749.5" r="8.2"/><circle class="r" cx="309.7" cy="848.9" r="8.2"/><circle class="c" cx="482.0" cy="813.7" r="8.2"/><circle class="c" cx="460.4" cy="713.4" r="8.2"/><circle class="c" cx="401.8" cy="829.1" r="8.2"/><circle class="c" cx="370.2" cy="822.7" r="8.2"/><circle class="c" cx="391.6" cy="860.9" r="8.2"/><circle class="r" cx="272.2" cy="865.1" r="8.2"/><circle class="c" cx="553.6" cy="798.6" r="8.2"/><circle class="c" cx="383.7" cy="811.9" r="8.2"/><circle class="c" cx="417.4" cy="720.4" r="8.2"/><circle class="c" cx="521.4" cy="848.6" r="8.2"/><circle class="c" cx="421.9" cy="849.5" r="8.2"/><circle class="c" cx="367.0" cy="761.6" r="8.2"/><circle class="r" cx="312.3" cy="719.4" r="8.2"/><circle class="r" cx="305.8" cy="818.9" r="8.2"/><circle class="c" cx="413.8" cy="812.7" r="8.2"/><circle class="c" cx="514.0" cy="812.9" r="8.2"/><circle class="r" cx="330.5" cy="707.5" r="8.2"/><circle class="c" cx="396.8" cy="767.9" r="8.2"/><circle class="c" cx="510.3" cy="783.2" r="8.2"/><circle class="c" cx="414.9" cy="757.5" r="8.2"/><circle class="c" cx="408.9" cy="743.2" r="8.2"/><circle class="c" cx="327.5" cy="897.0" r="8.2"/><circle class="r" cx="359.7" cy="695.7" r="8.2"/><circle class="r" cx="273.3" cy="869.2" r="8.2"/><circle class="c" cx="490.9" cy="808.0" r="8.2"/><circle class="r" cx="319.6" cy="821.4" r="8.2"/><circle class="c" cx="398.6" cy="844.7" r="8.2"/><circle class="c" cx="355.7" cy="796.1" r="8.2"/><circle class="c" cx="399.5" cy="871.4" r="8.2"/><circle class="r" cx="317.3" cy="763.4" r="8.2"/><circle class="c" cx="469.8" cy="714.8" r="8.2"/><circle class="r" cx="317.4" cy="808.8" r="8.2"/><circle class="c" cx="333.6" cy="766.1" r="8.2"/><circle class="c" cx="388.3" cy="794.8" r="8.2"/><circle class="c" cx="386.7" cy="780.6" r="8.2"/><circle class="r" cx="353.5" cy="894.7" r="8.2"/><circle class="r" cx="314.9" cy="741.6" r="8.2"/><circle class="c" cx="457.3" cy="797.6" r="8.2"/><circle class="c" cx="431.9" cy="834.3" r="8.2"/><circle class="r" cx="266.7" cy="865.3" r="8.2"/><circle class="c" cx="522.8" cy="785.4" r="8.2"/><circle class="c" cx="505.5" cy="804.8" r="8.2"/><circle class="c" cx="320.0" cy="955.7" r="8.2"/><circle class="c" cx="587.1" cy="735.7" r="8.2"/><circle class="c" cx="377.2" cy="827.7" r="8.2"/><circle class="r" cx="325.0" cy="848.2" r="8.2"/><circle class="c" cx="408.1" cy="764.8" r="8.2"/><circle class="c" cx="354.1" cy="749.4" r="8.2"/><circle class="c" cx="415.1" cy="754.7" r="8.2"/><circle class="c" cx="523.2" cy="764.6" r="8.2"/><circle class="c" cx="509.9" cy="811.5" r="8.2"/><circle class="c" cx="447.2" cy="841.9" r="8.2"/><circle class="r" cx="236.9" cy="827.1" r="8.2"/><circle class="c" cx="450.6" cy="793.6" r="8.2"/><circle class="r" cx="330.7" cy="707.2" r="8.2"/><circle class="r" cx="260.9" cy="839.0" r="8.2"/><circle class="c" cx="524.4" cy="792.2" r="8.2"/><circle class="c" cx="393.5" cy="753.6" r="8.2"/><circle class="c" cx="498.1" cy="763.8" r="8.2"/><circle class="c" cx="483.8" cy="796.7" r="8.2"/><circle class="r" cx="296.4" cy="714.6" r="8.2"/><circle class="c" cx="459.2" cy="733.7" r="8.2"/><circle class="c" cx="451.8" cy="779.6" r="8.2"/><circle class="r" cx="358.5" cy="767.9" r="8.2"/><circle class="c" cx="338.9" cy="790.6" r="8.2"/><circle class="c" cx="545.3" cy="774.7" r="8.2"/><circle class="c" cx="396.0" cy="829.8" r="8.2"/><circle class="c" cx="439.9" cy="829.6" r="8.2"/><circle class="r" cx="311.8" cy="792.6" r="8.2"/><circle class="c" cx="433.4" cy="882.4" r="8.2"/><circle class="c" cx="452.4" cy="788.2" r="8.2"/><circle class="c" cx="453.0" cy="814.0" r="8.2"/><circle class="c" cx="468.9" cy="844.2" r="8.2"/><circle class="c" cx="424.0" cy="696.9" r="8.2"/><circle class="r" cx="272.1" cy="907.1" r="8.2"/><circle class="c" cx="440.8" cy="742.3" r="8.2"/><circle class="r" cx="275.2" cy="785.6" r="8.2"/><circle class="c" cx="490.4" cy="743.6" r="8.2"/><circle class="r" cx="308.9" cy="774.9" r="8.2"/><circle class="r" cx="307.7" cy="726.1" r="8.2"/><circle class="c" cx="539.2" cy="764.0" r="8.2"/><circle class="r" cx="327.2" cy="857.0" r="8.2"/><circle class="c" cx="454.6" cy="731.4" r="8.2"/><circle class="c" cx="396.6" cy="840.1" r="8.2"/><circle class="c" cx="414.8" cy="803.5" r="8.2"/><circle class="c" cx="359.6" cy="792.6" r="8.2"/><circle class="r" cx="260.7" cy="866.5" r="8.2"/><circle class="c" cx="518.7" cy="783.0" r="8.2"/><circle class="r" cx="262.8" cy="746.8" r="8.2"/><circle class="c" cx="344.6" cy="787.0" r="8.2"/><circle class="c" cx="469.5" cy="714.5" r="8.2"/><circle class="c" cx="450.1" cy="814.1" r="8.2"/><circle class="c" cx="475.0" cy="738.6" r="8.2"/><circle class="c" cx="457.4" cy="768.4" r="8.2"/><circle class="c" cx="407.2" cy="761.5" r="8.2"/><circle class="r" cx="299.6" cy="834.8" r="8.2"/><circle class="r" cx="266.7" cy="833.0" r="8.2"/><circle class="c" cx="479.2" cy="821.9" r="8.2"/><circle class="c" cx="382.3" cy="757.7" r="8.2"/><circle class="r" cx="450.3" cy="819.2" r="8.2"/><circle class="c" cx="405.9" cy="738.3" r="8.2"/><circle class="r" cx="538.9" cy="772.1" r="8.2"/><circle class="c" cx="419.2" cy="826.4" r="8.2"/><circle class="c" cx="421.1" cy="779.9" r="8.2"/><circle class="c" cx="485.7" cy="788.7" r="8.2"/><circle class="c" cx="362.2" cy="727.9" r="8.2"/><circle class="c" cx="420.7" cy="821.3" r="8.2"/><circle class="c" cx="374.4" cy="817.7" r="8.2"/><circle class="c" cx="418.3" cy="779.2" r="8.2"/><circle class="c" cx="370.9" cy="819.9" r="8.2"/><circle class="c" cx="531.0" cy="802.2" r="8.2"/><circle class="r" cx="496.2" cy="758.6" r="8.2"/><circle class="c" cx="537.8" cy="776.7" r="8.2"/><circle class="c" cx="336.5" cy="868.8" r="8.2"/><circle class="r" cx="318.7" cy="827.6" r="8.2"/><circle class="c" cx="415.3" cy="729.1" r="8.2"/><circle class="c" cx="385.2" cy="752.9" r="8.2"/><circle class="c" cx="334.1" cy="841.1" r="8.2"/><circle class="c" cx="459.4" cy="782.7" r="8.2"/><circle class="c" cx="467.3" cy="736.4" r="8.2"/><circle class="c" cx="488.1" cy="804.7" r="8.2"/><circle class="c" cx="500.3" cy="741.6" r="8.2"/><circle class="c" cx="418.6" cy="841.5" r="8.2"/><circle class="c" cx="422.8" cy="845.2" r="8.2"/><circle class="c" cx="807.4" cy="677.0" r="8.2"/><circle class="r" cx="329.6" cy="771.1" r="8.2"/><circle class="c" cx="369.2" cy="831.2" r="8.2"/><circle class="c" cx="376.0" cy="786.1" r="8.2"/><circle class="c" cx="495.3" cy="812.9" r="8.2"/><circle class="c" cx="389.3" cy="790.5" r="8.2"/><circle class="c" cx="411.8" cy="856.9" r="8.2"/><circle class="c" cx="477.8" cy="742.6" r="8.2"/><circle class="r" cx="585.4" cy="829.2" r="8.2"/><circle class="r" cx="263.1" cy="845.6" r="8.2"/><circle class="c" cx="401.7" cy="778.8" r="8.2"/><circle class="r" cx="270.4" cy="871.4" r="8.2"/><circle class="c" cx="509.0" cy="783.1" r="8.2"/><circle class="r" cx="295.1" cy="849.8" r="8.2"/><circle class="r" cx="375.4" cy="888.8" r="8.2"/><circle class="r" cx="322.9" cy="661.4" r="8.2"/><circle class="c" cx="434.8" cy="790.1" r="8.2"/><circle class="c" cx="294.5" cy="838.3" r="8.2"/><circle class="r" cx="266.9" cy="832.0" r="8.2"/><circle class="c" cx="329.5" cy="786.5" r="8.2"/><circle class="c" cx="514.6" cy="760.5" r="8.2"/><circle class="r" cx="256.2" cy="831.7" r="8.2"/><circle class="r" cx="271.5" cy="766.9" r="8.2"/><circle class="c" cx="413.0" cy="662.0" r="8.2"/><circle class="r" cx="310.3" cy="851.1" r="8.2"/><circle class="c" cx="503.5" cy="747.0" r="8.2"/><circle class="r" cx="262.6" cy="833.3" r="8.2"/><circle class="c" cx="371.4" cy="830.9" r="8.2"/><circle class="c" cx="541.6" cy="775.9" r="8.2"/><circle class="r" cx="274.3" cy="860.9" r="8.2"/><circle class="c" cx="370.6" cy="841.1" r="8.2"/><circle class="r" cx="315.0" cy="843.1" r="8.2"/><circle class="c" cx="423.3" cy="797.1" r="8.2"/><circle class="c" cx="403.0" cy="770.9" r="8.2"/><circle class="c" cx="326.2" cy="853.1" r="8.2"/><circle class="c" cx="532.3" cy="723.7" r="8.2"/><circle class="c" cx="386.6" cy="833.1" r="8.2"/><circle class="c" cx="529.9" cy="796.4" r="8.2"/><circle class="c" cx="404.7" cy="749.4" r="8.2"/><circle class="c" cx="438.5" cy="712.9" r="8.2"/><circle class="r" cx="260.5" cy="859.2" r="8.2"/><circle class="c" cx="335.3" cy="847.9" r="8.2"/><circle class="c" cx="428.8" cy="772.3" r="8.2"/><circle class="r" cx="367.7" cy="713.1" r="8.2"/><circle class="c" cx="451.7" cy="753.5" r="8.2"/><circle class="c" cx="329.8" cy="835.1" r="8.2"/><circle class="c" cx="484.4" cy="736.1" r="8.2"/><circle class="c" cx="469.8" cy="798.0" r="8.2"/><circle class="r" cx="314.6" cy="851.3" r="8.2"/><circle class="c" cx="495.2" cy="764.3" r="8.2"/><circle class="c" cx="528.7" cy="782.1" r="8.2"/><circle class="c" cx="421.5" cy="735.5" r="8.2"/><circle class="c" cx="508.6" cy="770.5" r="8.2"/><circle class="c" cx="439.4" cy="834.6" r="8.2"/><circle class="r" cx="303.8" cy="859.4" r="8.2"/><circle class="c" cx="526.9" cy="734.9" r="8.2"/><circle class="c" cx="527.1" cy="735.3" r="8.2"/><circle class="c" cx="444.6" cy="854.4" r="8.2"/><circle class="r" cx="354.3" cy="904.3" r="8.2"/><circle class="c" cx="296.4" cy="871.0" r="8.2"/><circle class="c" cx="404.1" cy="769.9" r="8.2"/><circle class="c" cx="470.9" cy="831.4" r="8.2"/><circle class="c" cx="450.2" cy="749.4" r="8.2"/><circle class="c" cx="441.0" cy="806.2" r="8.2"/><circle class="r" cx="376.8" cy="624.6" r="8.2"/><circle class="r" cx="491.0" cy="845.7" r="8.2"/><circle class="r" cx="300.7" cy="695.2" r="8.2"/><circle class="c" cx="464.2" cy="771.7" r="8.2"/><circle class="c" cx="486.5" cy="803.0" r="8.2"/><circle class="c" cx="460.1" cy="763.0" r="8.2"/><circle class="c" cx="471.7" cy="819.5" r="8.2"/><circle class="c" cx="469.5" cy="739.3" r="8.2"/><circle class="c" cx="425.2" cy="805.9" r="8.2"/><circle class="c" cx="378.6" cy="874.8" r="8.2"/><circle class="c" cx="476.8" cy="746.7" r="8.2"/><circle class="c" cx="369.9" cy="830.2" r="8.2"/><circle class="c" cx="455.0" cy="848.9" r="8.2"/><circle class="c" cx="427.0" cy="841.6" r="8.2"/><circle class="r" cx="533.6" cy="757.9" r="8.2"/><circle class="c" cx="510.5" cy="796.3" r="8.2"/><circle class="c" cx="471.3" cy="743.9" r="8.2"/><circle class="r" cx="754.6" cy="805.1" r="8.2"/><circle class="r" cx="327.5" cy="890.9" r="8.2"/><circle class="r" cx="282.9" cy="832.2" r="8.2"/><circle class="c" cx="368.0" cy="811.2" r="8.2"/><circle class="c" cx="431.1" cy="841.8" r="8.2"/><circle class="c" cx="444.4" cy="709.8" r="8.2"/><circle class="c" cx="421.4" cy="759.2" r="8.2"/><circle class="c" cx="469.0" cy="820.0" r="8.2"/><circle class="c" cx="436.3" cy="765.6" r="8.2"/><circle class="c" cx="363.7" cy="712.7" r="8.2"/><circle class="c" cx="418.8" cy="760.0" r="8.2"/><circle class="c" cx="425.2" cy="749.6" r="8.2"/><circle class="c" cx="458.0" cy="841.1" r="8.2"/><circle class="c" cx="425.6" cy="825.9" r="8.2"/><circle class="c" cx="465.0" cy="778.1" r="8.2"/><circle class="c" cx="548.9" cy="785.6" r="8.2"/><circle class="r" cx="409.9" cy="641.1" r="8.2"/><circle class="r" cx="363.2" cy="788.3" r="8.2"/><circle class="r" cx="378.0" cy="596.0" r="8.2"/><circle class="r" cx="430.5" cy="772.4" r="8.2"/><circle class="r" cx="275.9" cy="857.9" r="8.2"/><circle class="c" cx="470.3" cy="782.8" r="8.2"/><circle class="c" cx="423.2" cy="827.9" r="8.2"/><circle class="r" cx="306.2" cy="753.1" r="8.2"/><circle class="c" cx="512.1" cy="768.8" r="8.2"/><circle class="c" cx="588.6" cy="818.6" r="8.2"/><circle class="r" cx="324.1" cy="802.2" r="8.2"/><circle class="r" cx="330.5" cy="730.6" r="8.2"/><circle class="c" cx="346.4" cy="741.0" r="8.2"/><circle class="c" cx="425.8" cy="776.4" r="8.2"/><circle class="c" cx="431.6" cy="835.4" r="8.2"/><circle class="c" cx="517.1" cy="818.4" r="8.2"/><circle class="c" cx="510.9" cy="767.0" r="8.2"/><circle class="c" cx="498.9" cy="760.0" r="8.2"/><circle class="r" cx="291.6" cy="635.0" r="8.2"/><circle class="c" cx="422.3" cy="739.2" r="8.2"/><circle class="c" cx="477.6" cy="752.9" r="8.2"/><circle class="c" cx="563.4" cy="733.8" r="8.2"/><circle class="r" cx="291.8" cy="851.5" r="8.2"/><circle class="r" cx="286.3" cy="796.1" r="8.2"/><circle class="c" cx="420.2" cy="831.9" r="8.2"/><circle class="c" cx="584.5" cy="800.1" r="8.2"/><circle class="c" cx="414.2" cy="780.3" r="8.2"/><circle class="r" cx="256.6" cy="848.2" r="8.2"/><circle class="r" cx="257.8" cy="899.3" r="8.2"/><circle class="r" cx="356.1" cy="808.3" r="8.2"/><circle class="r" cx="234.5" cy="771.5" r="8.2"/><circle class="c" cx="525.9" cy="804.8" r="8.2"/><circle class="c" cx="308.5" cy="877.3" r="8.2"/><circle class="c" cx="370.7" cy="838.0" r="8.2"/><circle class="c" cx="372.1" cy="714.3" r="8.2"/><circle class="c" cx="382.2" cy="852.0" r="8.2"/><circle class="r" cx="374.7" cy="790.2" r="8.2"/><circle class="r" cx="376.2" cy="625.8" r="8.2"/><circle class="c" cx="614.3" cy="784.3" r="8.2"/><circle class="c" cx="514.8" cy="840.7" r="8.2"/><circle class="r" cx="296.8" cy="842.6" r="8.2"/><circle class="c" cx="550.6" cy="787.2" r="8.2"/><circle class="c" cx="499.1" cy="807.4" r="8.2"/><circle class="c" cx="375.2" cy="759.6" r="8.2"/><circle class="r" cx="261.0" cy="855.5" r="8.2"/><circle class="r" cx="307.2" cy="770.3" r="8.2"/><circle class="c" cx="480.8" cy="785.8" r="8.2"/><circle class="c" cx="453.4" cy="757.1" r="8.2"/><circle class="c" cx="321.8" cy="762.0" r="8.2"/><circle class="c" cx="559.9" cy="812.0" r="8.2"/><circle class="c" cx="409.0" cy="800.6" r="8.2"/><circle class="r" cx="653.6" cy="787.9" r="8.2"/><circle class="r" cx="340.7" cy="698.5" r="8.2"/><circle class="c" cx="520.1" cy="768.3" r="8.2"/><circle class="c" cx="530.7" cy="762.2" r="8.2"/><circle class="c" cx="411.2" cy="783.2" r="8.2"/><circle class="c" cx="389.6" cy="857.5" r="8.2"/><circle class="c" cx="370.5" cy="755.4" r="8.2"/><circle class="c" cx="545.0" cy="800.0" r="8.2"/><circle class="c" cx="456.0" cy="779.5" r="8.2"/><circle class="c" cx="502.9" cy="791.1" r="8.2"/><circle class="c" cx="594.3" cy="726.4" r="8.2"/><circle class="r" cx="182.7" cy="727.4" r="8.2"/><circle class="r" cx="587.7" cy="805.5" r="8.2"/><circle class="r" cx="368.8" cy="881.3" r="8.2"/><circle class="c" cx="369.4" cy="854.6" r="8.2"/><circle class="c" cx="478.7" cy="781.8" r="8.2"/><circle class="r" cx="269.4" cy="863.5" r="8.2"/><circle class="r" cx="528.3" cy="803.1" r="8.2"/><circle class="c" cx="401.2" cy="787.2" r="8.2"/><circle class="c" cx="453.7" cy="734.9" r="8.2"/><circle class="c" cx="456.2" cy="764.8" r="8.2"/><circle class="c" cx="498.8" cy="775.8" r="8.2"/><circle class="c" cx="423.7" cy="743.3" r="8.2"/><circle class="r" cx="307.9" cy="861.4" r="8.2"/><circle class="c" cx="489.1" cy="749.4" r="8.2"/><circle class="r" cx="342.1" cy="853.7" r="8.2"/><circle class="c" cx="335.7" cy="807.3" r="8.2"/><circle class="c" cx="513.4" cy="796.4" r="8.2"/><circle class="c" cx="341.1" cy="864.9" r="8.2"/><circle class="c" cx="419.8" cy="825.6" r="8.2"/><circle class="r" cx="302.5" cy="832.7" r="8.2"/><circle class="c" cx="399.9" cy="800.3" r="8.2"/><circle class="c" cx="403.7" cy="728.9" r="8.2"/><circle class="c" cx="482.4" cy="809.8" r="8.2"/><circle class="r" cx="395.8" cy="770.1" r="8.2"/><circle class="c" cx="542.9" cy="722.9" r="8.2"/><circle class="r" cx="303.1" cy="863.7" r="8.2"/><circle class="r" cx="280.9" cy="801.3" r="8.2"/><circle class="r" cx="372.6" cy="813.0" r="8.2"/><circle class="r" cx="305.3" cy="842.4" r="8.2"/><circle class="r" cx="328.6" cy="874.7" r="8.2"/><circle class="c" cx="424.5" cy="831.2" r="8.2"/><circle class="c" cx="404.6" cy="782.6" r="8.2"/><circle class="c" cx="317.4" cy="778.4" r="8.2"/><circle class="c" cx="398.8" cy="785.5" r="8.2"/><circle class="c" cx="516.6" cy="750.8" r="8.2"/><circle class="r" cx="305.7" cy="811.5" r="8.2"/><circle class="c" cx="566.1" cy="808.9" r="8.2"/><circle class="c" cx="442.4" cy="768.6" r="8.2"/><circle class="c" cx="362.5" cy="770.6" r="8.2"/><circle class="r" cx="293.2" cy="792.8" r="8.2"/><circle class="c" cx="394.4" cy="798.3" r="8.2"/><circle class="c" cx="442.8" cy="819.5" r="8.2"/><circle class="c" cx="312.9" cy="900.0" r="8.2"/><circle class="c" cx="461.2" cy="771.1" r="8.2"/><circle class="r" cx="457.7" cy="812.3" r="8.2"/><circle class="r" cx="251.5" cy="834.6" r="8.2"/><circle class="c" cx="516.9" cy="748.7" r="8.2"/><circle class="c" cx="445.5" cy="809.5" r="8.2"/><circle class="r" cx="241.3" cy="847.6" r="8.2"/><circle class="c" cx="353.9" cy="788.5" r="8.2"/><circle class="c" cx="407.1" cy="853.5" r="8.2"/><circle class="c" cx="343.9" cy="840.6" r="8.2"/><circle class="c" cx="482.6" cy="772.2" r="8.2"/><circle class="c" cx="397.4" cy="795.4" r="8.2"/><circle class="c" cx="498.1" cy="802.3" r="8.2"/><circle class="c" cx="338.2" cy="797.1" r="8.2"/><circle class="c" cx="437.7" cy="739.2" r="8.2"/><circle class="r" cx="407.7" cy="746.3" r="8.2"/><circle class="c" cx="406.0" cy="766.8" r="8.2"/><circle class="c" cx="583.3" cy="814.1" r="8.2"/><circle class="c" cx="393.5" cy="765.2" r="8.2"/><circle class="c" cx="390.1" cy="754.9" r="8.2"/><circle class="c" cx="590.0" cy="804.3" r="8.2"/><circle class="c" cx="488.6" cy="739.9" r="8.2"/><circle class="c" cx="393.8" cy="727.3" r="8.2"/><circle class="r" cx="292.6" cy="857.6" r="8.2"/><circle class="c" cx="566.7" cy="833.8" r="8.2"/><circle class="c" cx="556.2" cy="789.4" r="8.2"/><circle class="c" cx="456.5" cy="752.7" r="8.2"/><circle class="r" cx="319.2" cy="859.0" r="8.2"/><circle class="c" cx="489.7" cy="788.5" r="8.2"/><circle class="r" cx="268.4" cy="851.8" r="8.2"/><circle class="c" cx="385.6" cy="779.1" r="8.2"/><circle class="c" cx="435.6" cy="733.7" r="8.2"/><circle class="r" cx="267.8" cy="843.0" r="8.2"/><circle class="r" cx="288.6" cy="857.2" r="8.2"/><circle class="c" cx="431.9" cy="788.2" r="8.2"/><circle class="c" cx="515.9" cy="806.4" r="8.2"/><circle class="c" cx="435.9" cy="749.7" r="8.2"/><circle class="c" cx="457.5" cy="872.2" r="8.2"/><circle class="c" cx="463.4" cy="775.3" r="8.2"/><circle class="c" cx="570.7" cy="846.4" r="8.2"/><circle class="c" cx="541.4" cy="806.2" r="8.2"/><circle class="c" cx="432.8" cy="788.6" r="8.2"/><circle class="c" cx="322.4" cy="799.3" r="8.2"/><circle class="c" cx="421.3" cy="720.2" r="8.2"/><circle class="c" cx="459.7" cy="737.8" r="8.2"/><circle class="c" cx="506.6" cy="767.0" r="8.2"/><circle class="c" cx="331.7" cy="842.0" r="8.2"/><circle class="c" cx="485.5" cy="780.8" r="8.2"/><circle class="c" cx="397.6" cy="752.1" r="8.2"/><circle class="c" cx="377.9" cy="692.9" r="8.2"/><circle class="c" cx="450.4" cy="843.2" r="8.2"/><circle class="c" cx="475.6" cy="714.5" r="8.2"/><circle class="c" cx="480.1" cy="827.2" r="8.2"/><circle class="c" cx="508.7" cy="775.3" r="8.2"/><circle class="c" cx="443.5" cy="798.0" r="8.2"/><circle class="c" cx="453.8" cy="866.3" r="8.2"/><circle class="c" cx="426.5" cy="760.5" r="8.2"/><circle class="c" cx="416.4" cy="799.0" r="8.2"/><circle class="c" cx="491.1" cy="791.5" r="8.2"/><circle class="c" cx="411.0" cy="824.4" r="8.2"/><circle class="c" cx="398.3" cy="791.7" r="8.2"/><circle class="c" cx="336.3" cy="815.5" r="8.2"/><circle class="c" cx="444.4" cy="849.7" r="8.2"/><circle class="c" cx="436.1" cy="803.5" r="8.2"/><circle class="c" cx="393.6" cy="792.9" r="8.2"/><circle class="c" cx="448.8" cy="759.1" r="8.2"/><circle class="c" cx="439.8" cy="746.4" r="8.2"/><circle class="c" cx="300.6" cy="828.7" r="8.2"/><circle class="c" cx="499.6" cy="819.0" r="8.2"/><circle class="c" cx="456.5" cy="638.7" r="8.2"/><circle class="r" cx="299.8" cy="825.0" r="8.2"/><circle class="c" cx="348.6" cy="824.3" r="8.2"/><circle class="c" cx="544.9" cy="801.9" r="8.2"/><circle class="r" cx="267.9" cy="834.8" r="8.2"/><circle class="c" cx="496.4" cy="758.2" r="8.2"/><circle class="c" cx="529.3" cy="839.8" r="8.2"/><circle class="c" cx="450.0" cy="766.1" r="8.2"/><circle class="c" cx="419.1" cy="829.0" r="8.2"/><circle class="c" cx="459.0" cy="797.4" r="8.2"/><circle class="c" cx="454.9" cy="785.9" r="8.2"/><circle class="r" cx="288.1" cy="830.3" r="8.2"/><circle class="r" cx="274.8" cy="869.0" r="8.2"/><circle class="c" cx="482.3" cy="747.0" r="8.2"/><circle class="r" cx="438.2" cy="777.4" r="8.2"/><circle class="r" cx="278.0" cy="869.3" r="8.2"/><circle class="c" cx="451.0" cy="801.9" r="8.2"/><circle class="c" cx="406.9" cy="838.1" r="8.2"/><circle class="c" cx="435.0" cy="773.6" r="8.2"/><circle class="r" cx="444.3" cy="880.0" r="8.2"/><circle class="c" cx="391.5" cy="813.1" r="8.2"/><circle class="r" cx="326.6" cy="823.7" r="8.2"/><circle class="c" cx="501.1" cy="776.9" r="8.2"/><circle class="r" cx="296.4" cy="741.2" r="8.2"/><circle class="r" cx="327.4" cy="863.7" r="8.2"/><circle class="c" cx="467.7" cy="834.1" r="8.2"/><circle class="c" cx="525.7" cy="728.6" r="8.2"/><circle class="c" cx="365.9" cy="873.1" r="8.2"/><circle class="r" cx="491.0" cy="825.0" r="8.2"/><circle class="r" cx="286.2" cy="844.3" r="8.2"/><circle class="c" cx="459.4" cy="780.8" r="8.2"/><circle class="c" cx="521.2" cy="763.6" r="8.2"/><circle class="r" cx="316.5" cy="775.4" r="8.2"/><circle class="c" cx="428.0" cy="806.3" r="8.2"/><circle class="c" cx="448.4" cy="741.3" r="8.2"/><circle class="c" cx="279.4" cy="869.2" r="8.2"/><circle class="c" cx="341.8" cy="894.1" r="8.2"/><circle class="c" cx="347.8" cy="784.7" r="8.2"/><circle class="c" cx="537.0" cy="821.4" r="8.2"/><circle class="r" cx="301.8" cy="786.8" r="8.2"/><circle class="r" cx="255.3" cy="884.4" r="8.2"/><circle class="r" cx="329.3" cy="778.9" r="8.2"/><circle class="c" cx="535.8" cy="787.9" r="8.2"/><circle class="c" cx="283.7" cy="911.5" r="8.2"/><circle class="c" cx="423.5" cy="725.6" r="8.2"/><circle class="c" cx="451.6" cy="809.0" r="8.2"/><circle class="r" cx="304.4" cy="798.5" r="8.2"/><circle class="c" cx="510.4" cy="753.1" r="8.2"/><circle class="c" cx="322.9" cy="812.6" r="8.2"/><circle class="c" cx="476.0" cy="813.4" r="8.2"/><circle class="c" cx="432.9" cy="800.6" r="8.2"/><circle class="c" cx="489.4" cy="813.2" r="8.2"/><circle class="c" cx="490.9" cy="820.6" r="8.2"/><circle class="c" cx="478.6" cy="723.9" r="8.2"/><circle class="r" cx="268.0" cy="803.9" r="8.2"/><circle class="c" cx="359.8" cy="766.0" r="8.2"/><circle class="c" cx="394.0" cy="818.0" r="8.2"/><circle class="c" cx="532.9" cy="779.1" r="8.2"/><circle class="r" cx="376.2" cy="792.5" r="8.2"/><circle class="c" cx="463.2" cy="768.4" r="8.2"/><circle class="c" cx="446.9" cy="750.8" r="8.2"/><circle class="c" cx="413.5" cy="843.9" r="8.2"/><circle class="r" cx="397.0" cy="644.2" r="8.2"/><circle class="c" cx="159.4" cy="785.6" r="8.2"/><circle class="c" cx="463.0" cy="698.9" r="8.2"/><circle class="c" cx="544.6" cy="791.7" r="8.2"/><circle class="c" cx="496.0" cy="761.7" r="8.2"/><circle class="c" cx="314.9" cy="805.9" r="8.2"/><circle class="c" cx="379.1" cy="786.4" r="8.2"/><circle class="c" cx="336.7" cy="774.4" r="8.2"/><circle class="r" cx="392.9" cy="885.0" r="8.2"/><circle class="c" cx="473.4" cy="767.5" r="8.2"/><circle class="c" cx="485.1" cy="782.3" r="8.2"/><circle class="r" cx="334.2" cy="830.6" r="8.2"/><circle class="c" cx="392.4" cy="856.6" r="8.2"/><circle class="c" cx="549.8" cy="788.2" r="8.2"/><circle class="c" cx="405.2" cy="756.3" r="8.2"/><circle class="r" cx="371.5" cy="710.5" r="8.2"/><circle class="c" cx="417.7" cy="768.6" r="8.2"/><circle class="r" cx="291.1" cy="768.4" r="8.2"/><circle class="c" cx="335.5" cy="770.9" r="8.2"/><circle class="r" cx="298.0" cy="777.0" r="8.2"/><circle class="c" cx="516.1" cy="768.8" r="8.2"/><circle class="c" cx="484.5" cy="809.0" r="8.2"/><circle class="c" cx="423.4" cy="788.3" r="8.2"/><circle class="c" cx="482.5" cy="836.7" r="8.2"/><circle class="c" cx="431.2" cy="761.8" r="8.2"/><circle class="c" cx="391.4" cy="780.9" r="8.2"/><circle class="r" cx="271.1" cy="848.2" r="8.2"/><circle class="r" cx="287.5" cy="849.4" r="8.2"/><circle class="c" cx="485.8" cy="719.8" r="8.2"/><circle class="c" cx="460.2" cy="788.9" r="8.2"/><circle class="c" cx="485.4" cy="760.6" r="8.2"/><circle class="c" cx="415.8" cy="840.8" r="8.2"/><circle class="c" cx="527.1" cy="800.3" r="8.2"/><circle class="c" cx="522.3" cy="810.0" r="8.2"/><circle class="c" cx="344.6" cy="779.2" r="8.2"/><circle class="r" cx="507.5" cy="756.0" r="8.2"/><circle class="r" cx="496.3" cy="822.9" r="8.2"/><circle class="c" cx="409.4" cy="750.6" r="8.2"/><circle class="r" cx="329.3" cy="792.6" r="8.2"/><circle class="c" cx="341.9" cy="872.8" r="8.2"/><circle class="r" cx="574.3" cy="801.3" r="8.2"/><circle class="c" cx="395.9" cy="745.5" r="8.2"/><circle class="r" cx="374.4" cy="676.1" r="8.2"/><circle class="r" cx="260.6" cy="846.1" r="8.2"/><circle class="r" cx="380.0" cy="855.2" r="8.2"/><circle class="c" cx="463.0" cy="736.7" r="8.2"/><circle class="r" cx="239.0" cy="862.1" r="8.2"/><circle class="c" cx="313.6" cy="783.0" r="8.2"/><circle class="c" cx="452.9" cy="834.1" r="8.2"/><circle class="c" cx="284.9" cy="864.8" r="8.2"/><circle class="c" cx="438.7" cy="766.3" r="8.2"/><circle class="c" cx="471.4" cy="809.1" r="8.2"/><circle class="r" cx="308.2" cy="864.7" r="8.2"/><circle class="c" cx="340.0" cy="849.2" r="8.2"/><circle class="r" cx="482.7" cy="764.1" r="8.2"/><circle class="c" cx="476.4" cy="735.3" r="8.2"/><circle class="c" cx="478.2" cy="815.3" r="8.2"/><circle class="c" cx="399.8" cy="790.5" r="8.2"/><circle class="c" cx="460.3" cy="765.5" r="8.2"/><circle class="c" cx="420.6" cy="755.1" r="8.2"/><circle class="r" cx="362.5" cy="759.5" r="8.2"/><circle class="c" cx="536.1" cy="769.3" r="8.2"/><circle class="c" cx="403.6" cy="775.6" r="8.2"/><circle class="c" cx="422.5" cy="787.9" r="8.2"/><circle class="c" cx="490.7" cy="776.5" r="8.2"/><circle class="c" cx="461.9" cy="742.5" r="8.2"/><circle class="r" cx="288.8" cy="702.7" r="8.2"/><circle class="r" cx="493.2" cy="821.4" r="8.2"/><circle class="r" cx="430.6" cy="705.5" r="8.2"/><circle class="r" cx="298.9" cy="897.2" r="8.2"/><circle class="r" cx="311.8" cy="811.7" r="8.2"/><circle class="c" cx="409.0" cy="833.8" r="8.2"/><circle class="r" cx="305.9" cy="740.5" r="8.2"/><circle class="r" cx="381.5" cy="792.7" r="8.2"/><circle class="c" cx="415.6" cy="740.7" r="8.2"/><circle class="c" cx="379.1" cy="815.9" r="8.2"/><circle class="c" cx="278.4" cy="869.9" r="8.2"/><circle class="c" cx="546.0" cy="793.9" r="8.2"/><circle class="c" cx="480.1" cy="872.9" r="8.2"/><circle class="r" cx="296.3" cy="743.4" r="8.2"/><circle class="c" cx="536.5" cy="805.1" r="8.2"/><circle class="c" cx="343.1" cy="806.7" r="8.2"/><circle class="c" cx="542.1" cy="779.2" r="8.2"/><circle class="c" cx="514.0" cy="808.1" r="8.2"/><circle class="c" cx="529.0" cy="787.8" r="8.2"/><circle class="r" cx="297.1" cy="741.3" r="8.2"/><circle class="r" cx="263.2" cy="763.3" r="8.2"/><circle class="r" cx="281.3" cy="853.9" r="8.2"/><circle class="r" cx="304.4" cy="722.1" r="8.2"/><circle class="c" cx="464.9" cy="839.2" r="8.2"/><circle class="c" cx="496.2" cy="766.4" r="8.2"/><circle class="c" cx="560.0" cy="722.9" r="8.2"/><circle class="c" cx="354.0" cy="774.5" r="8.2"/><circle class="c" cx="489.8" cy="763.2" r="8.2"/><circle class="c" cx="568.8" cy="836.9" r="8.2"/><circle class="c" cx="395.0" cy="837.6" r="8.2"/><circle class="r" cx="291.5" cy="820.4" r="8.2"/><circle class="c" cx="507.6" cy="794.4" r="8.2"/><circle class="c" cx="489.4" cy="752.2" r="8.2"/><circle class="c" cx="479.7" cy="736.4" r="8.2"/><circle class="c" cx="450.7" cy="752.8" r="8.2"/></g>
<g clip-path="url(#cb)">
<path d="M173.4 813.1 L183.2 812 L192.9 811 L202.7 809.9 L212.4 808.8 L222.2 807.6 L231.9 806.5 L241.7 805.3 L251.4 804.1 L261.2 802.9 L270.9 801.7 L280.7 800.4 L290.4 799.1 L300.2 797.8 L309.9 796.4 L319.7 795 L329.5 793.6 L339.2 792.1 L349 790.6 L358.7 789.1 L368.5 787.5 L378.2 785.9 L388 784.2 L397.7 782.6 L407.5 780.9 L417.2 779.2 L427 777.4 L436.7 775.7 L446.5 773.9 L456.2 772.1 L466 770.3 L475.8 768.5 L485.5 766.6 L495.3 764.8 L505 762.9 L514.8 761 L524.5 759.2 L534.3 757.3 L544 755.4 L553.8 753.5 L563.5 751.6 L573.3 749.6 L583 747.7 L592.8 745.8 L602.5 743.8 L612.3 741.9 L622.1 740 L631.8 738 L641.6 736.1 L651.3 734.1 L661.1 732.2 L670.8 730.2 L680.6 728.2 L690.3 726.3 L700.1 724.3 L709.8 722.4 L719.6 720.4 L729.3 718.4 L739.1 716.4 L748.8 714.5 L758.6 712.5 L758.6 764.5 L748.8 765.5 L739.1 766.4 L729.3 767.3 L719.6 768.3 L709.8 769.2 L700.1 770.1 L690.3 771.1 L680.6 772 L670.8 773 L661.1 773.9 L651.3 774.9 L641.6 775.8 L631.8 776.8 L622.1 777.7 L612.3 778.7 L602.5 779.7 L592.8 780.6 L583 781.6 L573.3 782.6 L563.5 783.6 L553.8 784.6 L544 785.6 L534.3 786.6 L524.5 787.6 L514.8 788.6 L505 789.7 L495.3 790.7 L485.5 791.8 L475.8 792.8 L466 793.9 L456.2 795 L446.5 796.1 L436.7 797.2 L427 798.4 L417.2 799.6 L407.5 800.7 L397.7 802 L388 803.2 L378.2 804.5 L368.5 805.8 L358.7 807.1 L349 808.5 L339.2 809.9 L329.5 811.3 L319.7 812.8 L309.9 814.3 L300.2 815.9 L290.4 817.4 L280.7 819 L270.9 820.7 L261.2 822.3 L251.4 824 L241.7 825.7 L231.9 827.5 L222.2 829.2 L212.4 831 L202.7 832.8 L192.9 834.6 L183.2 836.5 L173.4 838.3Z" fill="#999999" fill-opacity="0.4"/>
<line x1="173.4" y1="825.7" x2="758.6" y2="738.5" stroke="#F8766D" stroke-width="4.4"/>
<path d="M160.1 832 L172.8 830.1 L185.6 828.3 L198.3 826.4 L211 824.6 L223.7 822.7 L236.5 820.8 L249.2 818.9 L261.9 817 L274.7 815.1 L287.4 813.2 L300.1 811.3 L312.8 809.3 L325.6 807.4 L338.3 805.4 L351 803.4 L363.8 801.5 L376.5 799.5 L389.2 797.5 L401.9 795.5 L414.7 793.5 L427.4 791.4 L440.1 789.4 L452.9 787.4 L465.6 785.3 L478.3 783.2 L491 781.2 L503.8 779.1 L516.5 777 L529.2 774.9 L541.9 772.8 L554.7 770.7 L567.4 768.6 L580.1 766.5 L592.9 764.4 L605.6 762.3 L618.3 760.1 L631 758 L643.8 755.9 L656.5 753.7 L669.2 751.6 L682 749.4 L694.7 747.3 L707.4 745.1 L720.1 743 L732.9 740.8 L745.6 738.6 L758.3 736.5 L771.1 734.3 L783.8 732.2 L796.5 730 L809.2 727.8 L822 725.6 L834.7 723.5 L847.4 721.3 L860.2 719.1 L872.9 716.9 L885.6 714.7 L898.3 712.6 L911.1 710.4 L923.8 708.2 L923.8 733.2 L911.1 735 L898.3 736.7 L885.6 738.5 L872.9 740.3 L860.2 742 L847.4 743.8 L834.7 745.6 L822 747.3 L809.2 749.1 L796.5 750.9 L783.8 752.6 L771.1 754.4 L758.3 756.2 L745.6 758 L732.9 759.7 L720.1 761.5 L707.4 763.3 L694.7 765.1 L682 766.9 L669.2 768.7 L656.5 770.5 L643.8 772.3 L631 774.1 L618.3 775.9 L605.6 777.7 L592.9 779.5 L580.1 781.4 L567.4 783.2 L554.7 785 L541.9 786.9 L529.2 788.7 L516.5 790.6 L503.8 792.4 L491 794.3 L478.3 796.2 L465.6 798.1 L452.9 800 L440.1 801.9 L427.4 803.8 L414.7 805.7 L401.9 807.6 L389.2 809.5 L376.5 811.5 L363.8 813.4 L351 815.4 L338.3 817.4 L325.6 819.4 L312.8 821.4 L300.1 823.4 L287.4 825.4 L274.7 827.4 L261.9 829.4 L249.2 831.5 L236.5 833.5 L223.7 835.6 L211 837.7 L198.3 839.7 L185.6 841.8 L172.8 843.9 L160.1 846Z" fill="#999999" fill-opacity="0.4"/>
<line x1="160.1" y1="839" x2="923.8" y2="720.7" stroke="#00BFC4" stroke-width="4.4"/>
</g>
<rect x="736" y="844.5" width="240" height="135" fill="#fff"/>
<line x1="110" x2="122" y1="957.1" y2="957.1" stroke="#333" stroke-width="4.6"/><text x="100.1" y="969.7" text-anchor="end" font-size="36.5" fill="#4D4D4D">14</text><line x1="110" x2="122" y1="882.9" y2="882.9" stroke="#333" stroke-width="4.6"/><text x="100.1" y="895.5" text-anchor="end" font-size="36.5" fill="#4D4D4D">16</text><line x1="110" x2="122" y1="808.7" y2="808.7" stroke="#333" stroke-width="4.6"/><text x="100.1" y="821.3" text-anchor="end" font-size="36.5" fill="#4D4D4D">18</text><line x1="110" x2="122" y1="734.4" y2="734.4" stroke="#333" stroke-width="4.6"/><text x="100.1" y="747" text-anchor="end" font-size="36.5" fill="#4D4D4D">20</text><line x1="110" x2="122" y1="660.2" y2="660.2" stroke="#333" stroke-width="4.6"/><text x="100.1" y="672.8" text-anchor="end" font-size="36.5" fill="#4D4D4D">22</text><line x1="110" x2="122" y1="586" y2="586" stroke="#333" stroke-width="4.6"/><text x="100.1" y="598.6" text-anchor="end" font-size="36.5" fill="#4D4D4D">24</text><line y1="975" y2="987" x1="285.7" x2="285.7" stroke="#333" stroke-width="4.6"/><text x="285.7" y="1021.4" text-anchor="middle" font-size="36.5" fill="#4D4D4D">2</text><line y1="975" y2="987" x1="503.5" x2="503.5" stroke="#333" stroke-width="4.6"/><text x="503.5" y="1021.4" text-anchor="middle" font-size="36.5" fill="#4D4D4D">4</text><line y1="975" y2="987" x1="721.3" x2="721.3" stroke="#333" stroke-width="4.6"/><text x="721.3" y="1021.4" text-anchor="middle" font-size="36.5" fill="#4D4D4D">6</text>
<text y="1074.9" font-size="46" fill="#000"><tspan x="377.6" font-size="46.3">Egg size (10</tspan><tspan x="635.2" y="1059.5" font-size="26.7">6</tspan><tspan x="667.8" y="1074.9">fl)</tspan></text>
<text transform="translate(38.7,771) rotate(-90)" text-anchor="middle" font-size="46" fill="#000">EDT (hours)</text>
<text x="0.9" y="606.7" font-size="60" font-weight="bold" fill="#000">b</text>
<rect x="758" y="893.4" width="73" height="145.2" fill="#CDCDCD"/>
<line x1="765.7" x2="823.7" y1="930" y2="930" stroke="#F8766D" stroke-width="4.4"/>
<circle cx="794.9" cy="930" r="8" fill="#F8766D" fill-opacity="0.3" stroke="#F8766D" stroke-opacity="0.3" stroke-width="2.6"/>
<line x1="765.7" x2="823.7" y1="1002.9" y2="1002.9" stroke="#00BFC4" stroke-width="4.4"/>
<circle cx="794.9" cy="1002.9" r="8" fill="#00BFC4" fill-opacity="0.3" stroke="#00BFC4" stroke-opacity="0.3" stroke-width="2.6"/>
<text x="854" y="942" font-size="34.2" fill="#000">compact</text>
<text x="854" y="1015" font-size="34.2" fill="#000">saccate</text>
<text x="1002.1" y="43.1" font-size="60" font-weight="bold" fill="#000">c</text>
<rect x="1043.3" y="207.7" width="159.2" height="215.5" fill="#fff" stroke="#333" stroke-width="1.4"/>
<rect x="1590.4" y="207.7" width="158.7" height="215.5" fill="#fff" stroke="#333" stroke-width="1.4"/>
<rect x="1316.7" y="664.4" width="159.1" height="215.7" fill="#fff" stroke="#333" stroke-width="1.4"/>
<text x="1121.2" y="328.8" text-anchor="middle" font-size="33.5" fill="#000">Egg size</text>
<text x="1668.6" y="328.4" text-anchor="middle" font-size="33.5" fill="#000">Dev. time</text>
<text x="1390.2" y="764" text-anchor="middle" font-size="33.5" fill="#000">Genome</text>
<text x="1399.8" y="803.8" text-anchor="middle" font-size="33.5" fill="#000">size</text>
<line x1="1202.5" y1="315.5" x2="1581.3" y2="315.5" stroke="#32AA32" stroke-width="6.4"/><path d="M1590.1 315.5 L1578.8 324.2 L1579.8 315.5 L1578.8 306.8 Z" fill="#32AA32"/>
<line x1="1334.3" y1="664" x2="1193.2" y2="432.5" stroke="#009900" stroke-width="7.4"/><path d="M1187.9 423.9 L1201.3 431.7 L1193.9 433.8 L1188.7 439.4 Z" fill="#009900"/>
<line x1="1459.7" y1="664" x2="1599.5" y2="432" stroke="#60C060" stroke-width="5.5"/><path d="M1604.4 423.9 L1604.1 438.9 L1598.7 433.3 L1591.3 431.2 Z" fill="#60C060"/>
<rect x="1363.5" y="301" width="61.5" height="31" fill="#fff"/>
<text x="1395.5" y="328.9" text-anchor="middle" font-size="33.5" fill="#32AA32">0.21</text>
<rect x="1226" y="527.8" width="64" height="31" fill="#fff"/>
<text x="1258" y="556.5" text-anchor="middle" font-size="33.5" fill="#009900">0.26</text>
<rect x="1499.5" y="527.8" width="64" height="31" fill="#fff"/>
<text x="1531.4" y="556.6" text-anchor="middle" font-size="33.5" fill="#60C060">0.16</text>
</svg></body></html>
